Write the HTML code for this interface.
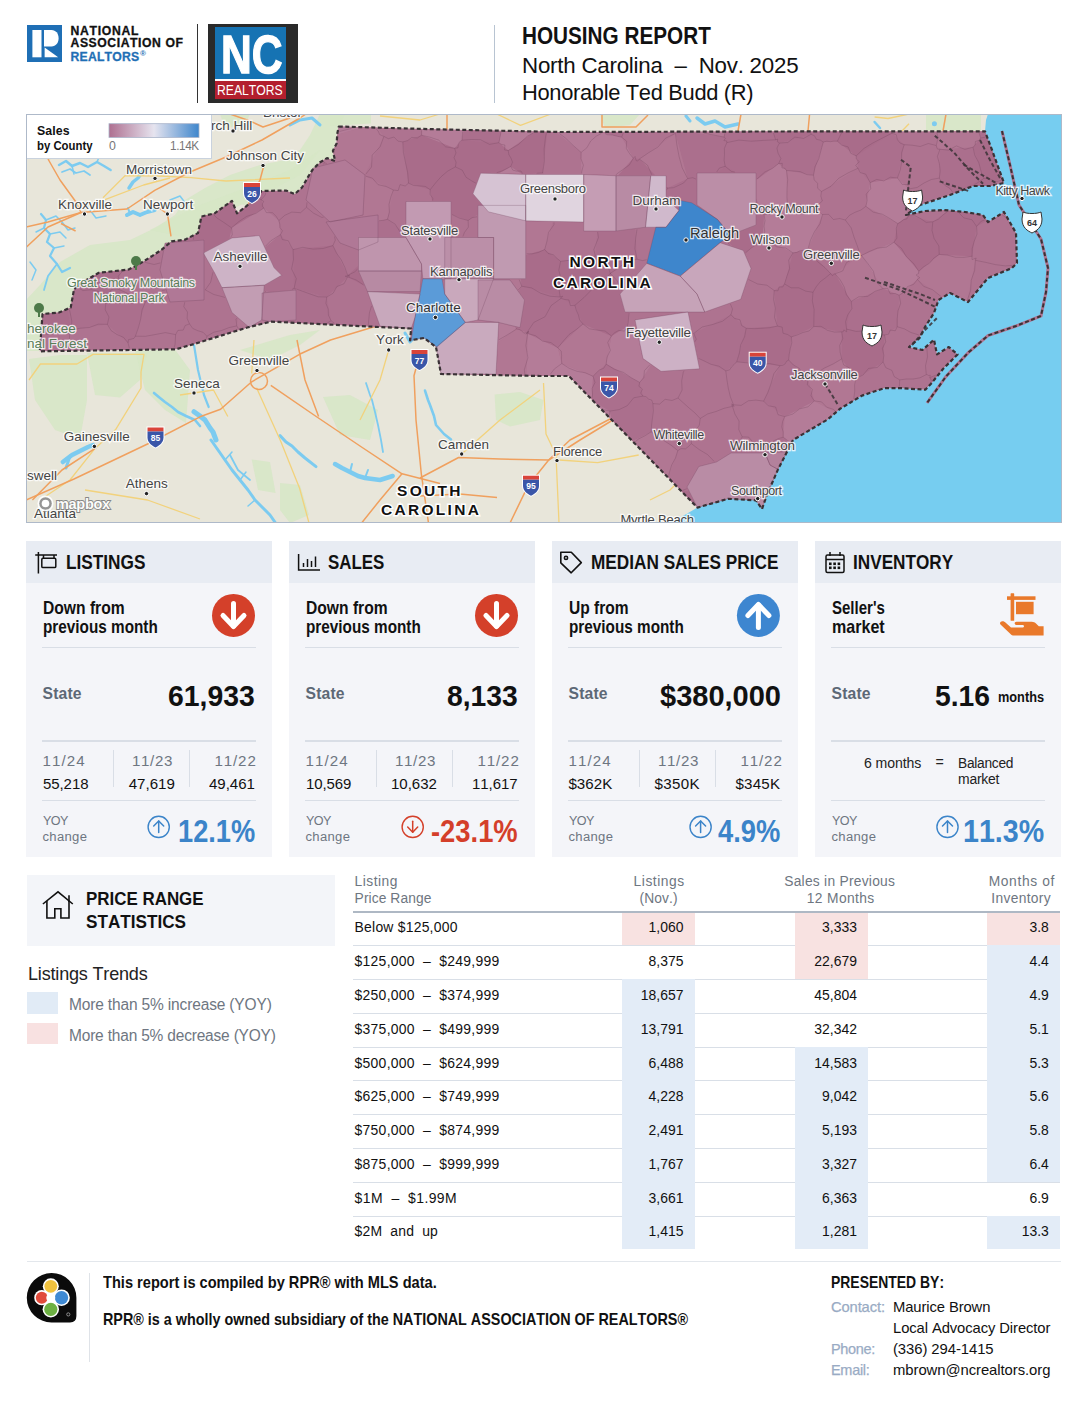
<!DOCTYPE html>
<html><head><meta charset="utf-8"><title>Housing Report</title>
<style>
html,body{margin:0;padding:0;background:#fff;}
body{width:1088px;height:1408px;position:relative;overflow:hidden;font-family:"Liberation Sans",sans-serif;font-kerning:none;}
.t{position:absolute;white-space:nowrap;line-height:1;}
.r{position:absolute;}
</style></head><body>
<div class="r" style="left:26.60px;top:25.00px;width:35.10px;height:37.20px;background:#1f6fb5;"></div>
<svg class="r" style="left:0;top:0" width="80" height="80" viewBox="0 0 80 80">
<rect x="32.4" y="30" width="9.1" height="27.3" fill="#fff"/>
<path d="M44,30 H51.5 C55.8,30 58.6,33.6 58.6,38.2 C58.6,42.9 55.8,46.4 51.5,46.4 H44 Z" fill="#fff"/>
<path d="M44.6,47.6 L58.2,57.3 H44.6 Z" fill="#fff"/>
</svg>
<span class="t" style="left:70.50px;top:24.71px;font-size:12.21px;font-weight:700;color:#111;letter-spacing:0.691px;-webkit-text-stroke:0.3px #111;">NATIONAL</span>
<span class="t" style="left:70.50px;top:37.41px;font-size:12.21px;font-weight:700;color:#111;letter-spacing:0.567px;-webkit-text-stroke:0.3px #111;">ASSOCIATION OF</span>
<span class="t" style="left:70.50px;top:50.71px;font-size:12.21px;font-weight:700;color:#1f6fb5;letter-spacing:0.223px;-webkit-text-stroke:0.3px #1f6fb5;">REALTORS</span>
<span class="t" style="left:140.00px;top:50.18px;font-size:7.99px;font-weight:700;color:#1f6fb5;">®</span>
<div class="r" style="left:196.50px;top:24.00px;width:1.50px;height:79.00px;background:#333;"></div>
<div class="r" style="left:208.00px;top:24.00px;width:89.60px;height:79.00px;background:#2a2a2a;"></div>
<div class="r" style="left:214.70px;top:27.00px;width:71.30px;height:52.00px;background:#1673b3;"></div>
<div class="r" style="left:214.70px;top:79.00px;width:71.30px;height:1.80px;background:#ffffff;"></div>
<div class="r" style="left:214.70px;top:80.80px;width:71.30px;height:18.20px;background:#b31f2e;"></div>
<span class="t" style="left:220.50px;top:26.88px;font-size:54.07px;font-weight:700;color:#fff;transform:scaleX(0.7877);transform-origin:0 0;-webkit-text-stroke:1.3px #fff;">NC</span>
<span class="t" style="left:217.40px;top:82.80px;font-size:14.83px;color:#fff;transform:scaleX(0.8211);transform-origin:0 0;">REALTORS</span>
<div class="r" style="left:493.50px;top:25.00px;width:1.50px;height:78.00px;background:#b8c4d2;"></div>
<span class="t" style="left:522.40px;top:23.55px;font-size:23.98px;font-weight:700;color:#111;transform:scaleX(0.8644);transform-origin:0 0;">HOUSING REPORT</span>
<span class="t" style="left:522.40px;top:53.53px;font-size:22.82px;color:#111;letter-spacing:-0.238px;transform:scaleX(0.9783);transform-origin:0 0;white-space:pre;">North Carolina  –  Nov. 2025</span>
<span class="t" style="left:522.40px;top:82.18px;font-size:22.53px;color:#111;letter-spacing:-0.337px;transform:scaleX(0.9720);transform-origin:0 0;">Honorable Ted Budd (R)</span>
<svg class="r" style="left:26px;top:114px" width="1036" height="409" viewBox="26 114 1036 409">
<defs><clipPath id="mc"><rect x="26" y="114" width="1036" height="409"/></clipPath></defs>
<g clip-path="url(#mc)">
<rect x="26" y="114" width="1036" height="409" fill="#e8e6da"/>
<polygon points="26.0,300.0 40.0,285.0 60.0,262.0 90.0,245.0 130.0,240.0 155.0,228.0 175.0,215.0 185.0,200.0 205.0,188.0 230.0,175.0 260.0,165.0 285.0,160.0 300.0,150.0 310.0,135.0 320.0,114.0 345.0,114.0 339.0,126.0 337.0,133.0 333.0,151.0 335.0,161.0 327.0,158.0 312.0,170.0 302.0,187.0 295.0,194.0 286.0,190.0 262.0,191.0 247.0,206.0 232.0,201.0 215.0,213.0 201.4,216.5 198.0,233.0 185.0,239.7 171.6,241.4 161.7,249.6 151.7,256.3 138.5,264.5 128.6,269.5 98.8,272.8 79.0,284.4 74.0,289.3 70.7,307.5 59.0,312.5 42.5,314.0 39.0,351.0 26.0,351.0" fill="#d6e6c6" opacity="0.85"/>
<polygon points="150.0,230.0 200.0,205.0 240.0,190.0 290.0,170.0 320.0,150.0 300.0,175.0 262.0,195.0 220.0,215.0 190.0,238.0" fill="#d6e6c6" opacity="0.85"/>
<polygon points="29.0,359.0 60.0,355.0 87.0,355.0 87.0,400.0 80.0,439.0 55.0,430.0 35.0,400.0" fill="#d6e6c6" opacity="0.85"/>
<polygon points="87.0,353.0 147.5,353.0 140.0,380.0 120.0,397.6 95.0,395.0" fill="#d6e6c6" opacity="0.85"/>
<polygon points="135.0,351.0 175.0,349.6 190.0,370.0 186.0,423.0 165.0,410.0 145.0,390.0" fill="#d6e6c6" opacity="0.85"/>
<polygon points="240.0,350.0 290.0,335.0 320.0,330.0 300.0,345.0 270.0,360.0" fill="#d6e6c6" opacity="0.85"/>
<polygon points="323.0,397.0 350.0,395.0 378.0,410.0 370.0,440.0 340.0,435.0" fill="#d6e6c6" opacity="0.85"/>
<polygon points="251.7,459.5 270.0,462.0 275.6,493.0 258.0,490.0" fill="#d6e6c6" opacity="0.85"/>
<polygon points="280.0,483.0 300.0,485.0 309.0,515.0 290.0,523.0 280.0,510.0" fill="#d6e6c6" opacity="0.85"/>
<polygon points="494.6,394.4 520.0,392.0 543.5,400.0 540.0,420.0 510.0,426.6 496.0,420.0" fill="#d6e6c6" opacity="0.85"/>
<polygon points="220.0,114.0 250.0,114.0 245.0,125.0 225.0,128.0" fill="#d6e6c6" opacity="0.85"/>
<polygon points="926.0,114.0 981.0,114.0 981.0,131.0 926.0,131.0" fill="#d6e6c6" opacity="0.85"/>
<polygon points="330.0,114.0 371.0,114.0 371.0,123.6 330.0,126.0" fill="#d6e6c6" opacity="0.85"/>
<polygon points="600.0,114.0 640.0,114.0 630.0,125.0 605.0,128.0" fill="#d6e6c6" opacity="0.85"/>
<polyline points="59.0,165.0 66.0,161.0 72.0,166.0 80.0,163.0 88.0,167.0 97.0,162.0 104.0,166.0 110.6,170.0" fill="none" stroke="#7ccbf0" stroke-width="2.5" stroke-linejoin="round" stroke-linecap="round"/>
<polyline points="62.0,172.0 70.0,169.0 76.0,173.0 84.0,171.0 90.0,175.0" fill="none" stroke="#7ccbf0" stroke-width="1.8" stroke-linejoin="round" stroke-linecap="round"/>
<polyline points="72.0,166.0 74.0,174.0" fill="none" stroke="#7ccbf0" stroke-width="1.5" stroke-linejoin="round" stroke-linecap="round"/>
<polyline points="97.0,162.0 100.0,155.0" fill="none" stroke="#7ccbf0" stroke-width="1.5" stroke-linejoin="round" stroke-linecap="round"/>
<polyline points="129.0,188.0 133.0,182.0 138.0,178.0 142.0,172.0 147.0,168.0" fill="none" stroke="#7ccbf0" stroke-width="3.5" stroke-linejoin="round" stroke-linecap="round"/>
<polyline points="127.0,215.0 133.0,212.0 140.0,215.0 147.0,212.0 154.7,210.0" fill="none" stroke="#7ccbf0" stroke-width="4" stroke-linejoin="round" stroke-linecap="round"/>
<polyline points="130.0,214.0 128.0,208.0" fill="none" stroke="#7ccbf0" stroke-width="2" stroke-linejoin="round" stroke-linecap="round"/>
<polyline points="41.0,214.0 46.0,220.0 44.0,228.0 50.0,234.0 47.0,242.0 54.0,248.0 50.0,256.0 57.0,264.0 62.0,272.0 70.0,268.0" fill="none" stroke="#7ccbf0" stroke-width="2.2" stroke-linejoin="round" stroke-linecap="round"/>
<polyline points="46.0,220.0 56.0,216.0 62.0,222.0" fill="none" stroke="#7ccbf0" stroke-width="1.5" stroke-linejoin="round" stroke-linecap="round"/>
<polyline points="50.0,234.0 60.0,232.0 66.0,238.0" fill="none" stroke="#7ccbf0" stroke-width="1.5" stroke-linejoin="round" stroke-linecap="round"/>
<polyline points="54.0,248.0 64.0,246.0" fill="none" stroke="#7ccbf0" stroke-width="1.5" stroke-linejoin="round" stroke-linecap="round"/>
<polyline points="44.0,228.0 36.0,232.0" fill="none" stroke="#7ccbf0" stroke-width="1.5" stroke-linejoin="round" stroke-linecap="round"/>
<polyline points="57.0,264.0 48.0,276.0 44.0,290.0" fill="none" stroke="#7ccbf0" stroke-width="1.8" stroke-linejoin="round" stroke-linecap="round"/>
<polyline points="30.0,262.0 36.0,270.0 32.0,280.0" fill="none" stroke="#7ccbf0" stroke-width="1.5" stroke-linejoin="round" stroke-linecap="round"/>
<polyline points="62.0,222.0 68.0,230.0 75.0,228.0" fill="none" stroke="#7ccbf0" stroke-width="1.5" stroke-linejoin="round" stroke-linecap="round"/>
<polyline points="90.0,210.0 96.0,218.0 106.0,216.0" fill="none" stroke="#7ccbf0" stroke-width="1.5" stroke-linejoin="round" stroke-linecap="round"/>
<polyline points="170.0,200.0 180.0,196.0 186.0,204.0" fill="none" stroke="#7ccbf0" stroke-width="1.5" stroke-linejoin="round" stroke-linecap="round"/>
<polyline points="290.0,125.0 300.0,120.0 312.0,118.0 320.0,125.0" fill="none" stroke="#7ccbf0" stroke-width="3" stroke-linejoin="round" stroke-linecap="round"/>
<polyline points="194.0,345.0 198.0,370.0 204.0,395.0 208.7,407.0" fill="none" stroke="#7ccbf0" stroke-width="2.2" stroke-linejoin="round" stroke-linecap="round"/>
<polyline points="194.0,411.7 200.0,416.0 205.0,420.0 210.0,428.0 213.0,432.0 216.0,440.0" fill="none" stroke="#7ccbf0" stroke-width="5" stroke-linejoin="round" stroke-linecap="round"/>
<polyline points="211.0,440.0 218.0,450.0 225.0,460.0 232.0,470.0 240.0,480.0 248.0,490.0 255.0,500.0 262.0,507.0 270.0,515.0 275.6,523.0" fill="none" stroke="#7ccbf0" stroke-width="3" stroke-linejoin="round" stroke-linecap="round"/>
<polyline points="225.0,460.0 232.0,452.0" fill="none" stroke="#7ccbf0" stroke-width="1.5" stroke-linejoin="round" stroke-linecap="round"/>
<polyline points="240.0,480.0 246.0,472.0" fill="none" stroke="#7ccbf0" stroke-width="1.5" stroke-linejoin="round" stroke-linecap="round"/>
<polyline points="255.0,500.0 248.0,506.0" fill="none" stroke="#7ccbf0" stroke-width="1.5" stroke-linejoin="round" stroke-linecap="round"/>
<polyline points="230.0,455.0 238.0,470.0 250.0,480.0" fill="none" stroke="#7ccbf0" stroke-width="1.8" stroke-linejoin="round" stroke-linecap="round"/>
<polyline points="280.0,435.6 286.0,442.0 292.0,446.0 298.0,452.0 305.0,458.0 316.0,466.6" fill="none" stroke="#7ccbf0" stroke-width="3" stroke-linejoin="round" stroke-linecap="round"/>
<polyline points="335.0,464.0 342.0,468.0 350.0,472.0 358.0,476.0 365.0,478.0 380.0,480.0 392.7,476.0" fill="none" stroke="#7ccbf0" stroke-width="4.5" stroke-linejoin="round" stroke-linecap="round"/>
<polyline points="350.0,472.0 352.0,464.0" fill="none" stroke="#7ccbf0" stroke-width="2" stroke-linejoin="round" stroke-linecap="round"/>
<polyline points="365.0,478.0 368.0,470.0" fill="none" stroke="#7ccbf0" stroke-width="2" stroke-linejoin="round" stroke-linecap="round"/>
<polyline points="366.0,383.0 370.0,395.0 372.0,400.0 375.0,412.0 378.0,425.0 381.0,440.0 383.0,452.0" fill="none" stroke="#7ccbf0" stroke-width="1.8" stroke-linejoin="round" stroke-linecap="round"/>
<polyline points="425.0,390.6 428.0,400.0 430.0,405.0 434.0,416.0 436.0,425.0 444.0,434.0 451.0,439.5" fill="none" stroke="#7ccbf0" stroke-width="2.6" stroke-linejoin="round" stroke-linecap="round"/>
<polyline points="62.8,462.0 68.0,458.0 72.0,455.0 78.0,452.0 82.0,450.0 88.0,447.0 93.0,445.0" fill="none" stroke="#7ccbf0" stroke-width="4.5" stroke-linejoin="round" stroke-linecap="round"/>
<polyline points="70.0,456.0 66.0,468.0" fill="none" stroke="#7ccbf0" stroke-width="3" stroke-linejoin="round" stroke-linecap="round"/>
<polyline points="154.0,393.0 160.0,398.0 165.0,402.0 172.0,407.0 178.0,412.0 186.0,416.0 195.0,420.0 200.0,426.0" fill="none" stroke="#7ccbf0" stroke-width="2.6" stroke-linejoin="round" stroke-linecap="round"/>
<polyline points="405.0,333.0 410.0,342.0 414.0,338.0" fill="none" stroke="#7ccbf0" stroke-width="3" stroke-linejoin="round" stroke-linecap="round"/>
<polyline points="697.0,118.0 705.0,124.0 715.0,121.0 725.0,127.0 738.0,124.0" fill="none" stroke="#7ccbf0" stroke-width="3.5" stroke-linejoin="round" stroke-linecap="round"/>
<polyline points="874.6,122.0 880.0,128.0" fill="none" stroke="#7ccbf0" stroke-width="2.5" stroke-linejoin="round" stroke-linecap="round"/>
<polyline points="686.0,116.0 690.0,121.0" fill="none" stroke="#7ccbf0" stroke-width="3" stroke-linejoin="round" stroke-linecap="round"/>
<polyline points="103.0,197.8 125.0,175.7 160.0,176.0 191.0,177.6 226.0,181.0 290.0,178.0" fill="none" stroke="#f2d27c" stroke-width="1.3" stroke-linejoin="round"/>
<polyline points="105.0,199.6 143.6,185.0 170.0,178.0" fill="none" stroke="#f2d27c" stroke-width="1.3" stroke-linejoin="round"/>
<polyline points="48.0,159.0 80.0,150.0 120.0,140.0 160.0,128.0 200.0,118.0" fill="none" stroke="#f2d27c" stroke-width="1.3" stroke-linejoin="round"/>
<polyline points="254.0,340.0 251.7,373.5" fill="none" stroke="#f2d27c" stroke-width="1.3" stroke-linejoin="round"/>
<polyline points="256.5,387.8 280.4,440.4 299.5,488.0 309.0,523.0" fill="none" stroke="#f2d27c" stroke-width="1.3" stroke-linejoin="round"/>
<polyline points="180.0,395.0 213.5,390.0 227.8,416.5" fill="none" stroke="#f2d27c" stroke-width="1.3" stroke-linejoin="round"/>
<polyline points="29.0,380.0 40.4,364.0 77.0,364.0 93.0,354.4 144.0,354.4 141.0,372.0 141.0,388.0 115.6,429.6 94.8,448.7 70.0,480.0 40.0,500.0" fill="none" stroke="#f2d27c" stroke-width="1.3" stroke-linejoin="round"/>
<polyline points="85.0,490.0 147.5,500.0 200.0,519.0" fill="none" stroke="#f2d27c" stroke-width="1.3" stroke-linejoin="round"/>
<polyline points="543.5,383.0 546.0,434.0 556.0,455.0 559.0,523.0" fill="none" stroke="#f2d27c" stroke-width="1.3" stroke-linejoin="round"/>
<polyline points="559.0,460.0 597.6,462.6 638.7,455.0" fill="none" stroke="#f2d27c" stroke-width="1.3" stroke-linejoin="round"/>
<polyline points="461.7,454.0 500.0,420.0 540.0,390.0" fill="none" stroke="#f2d27c" stroke-width="1.3" stroke-linejoin="round"/>
<polyline points="388.7,350.0 380.0,380.0 360.0,420.0" fill="none" stroke="#f2d27c" stroke-width="1.3" stroke-linejoin="round"/>
<polyline points="496.7,114.0 520.5,125.3 551.0,114.0" fill="none" stroke="#f2d27c" stroke-width="1.3" stroke-linejoin="round"/>
<polyline points="874.6,117.0 888.0,118.5 909.0,114.0" fill="none" stroke="#f2d27c" stroke-width="1.3" stroke-linejoin="round"/>
<polyline points="909.0,123.7 902.0,131.0" fill="none" stroke="#f2d27c" stroke-width="1.3" stroke-linejoin="round"/>
<polyline points="380.0,116.0 420.0,120.0 440.0,114.0" fill="none" stroke="#f2d27c" stroke-width="1.3" stroke-linejoin="round"/>
<polyline points="650.0,500.0 670.0,490.0 690.0,470.0" fill="none" stroke="#f2d27c" stroke-width="1.3" stroke-linejoin="round"/>
<polyline points="26.0,227.0 48.0,222.0 81.0,212.5 127.0,209.0 154.7,190.4 190.0,172.0 226.0,157.0 262.0,140.0 300.0,118.0 306.0,114.0" fill="none" stroke="#f0a05e" stroke-width="1.5" stroke-linejoin="round"/>
<polyline points="48.0,159.0 60.0,180.0 75.6,201.5 81.0,212.5" fill="none" stroke="#f0a05e" stroke-width="1.5" stroke-linejoin="round"/>
<polyline points="26.0,247.4 48.0,227.0 81.0,212.5" fill="none" stroke="#f0a05e" stroke-width="1.5" stroke-linejoin="round"/>
<polyline points="61.0,223.5 75.6,231.0" fill="none" stroke="#f0a05e" stroke-width="1.5" stroke-linejoin="round"/>
<polyline points="154.7,205.0 167.5,214.0 171.0,236.4" fill="none" stroke="#f0a05e" stroke-width="1.5" stroke-linejoin="round"/>
<polyline points="264.0,165.0 260.0,180.0 252.0,196.0 248.0,205.0" fill="none" stroke="#f0a05e" stroke-width="1.5" stroke-linejoin="round"/>
<polyline points="26.0,500.0 74.0,479.0 147.5,444.0 200.0,416.8 220.6,409.3 251.7,381.8 299.5,354.3 330.5,340.0 380.0,325.0 411.0,320.0" fill="none" stroke="#f0a05e" stroke-width="1.5" stroke-linejoin="round"/>
<polyline points="32.4,500.0 62.0,470.0 94.8,448.7" fill="none" stroke="#f0a05e" stroke-width="1.5" stroke-linejoin="round"/>
<polyline points="270.8,385.4 316.2,416.5 360.0,446.0 402.0,473.8 440.0,483.4" fill="none" stroke="#f0a05e" stroke-width="1.5" stroke-linejoin="round"/>
<polyline points="297.0,340.0 305.0,380.0 318.6,416.5" fill="none" stroke="#f0a05e" stroke-width="1.5" stroke-linejoin="round"/>
<polyline points="421.0,349.6 414.0,375.8 416.0,420.0 421.3,473.8 428.5,523.0" fill="none" stroke="#f0a05e" stroke-width="1.5" stroke-linejoin="round"/>
<polyline points="402.0,473.8 380.0,500.0 361.6,523.0" fill="none" stroke="#f0a05e" stroke-width="1.5" stroke-linejoin="round"/>
<polyline points="420.0,478.0 458.6,457.5 500.0,459.0 548.7,460.0 580.0,440.0 610.4,421.5 640.0,400.0" fill="none" stroke="#f0a05e" stroke-width="1.5" stroke-linejoin="round"/>
<polyline points="510.0,523.0 528.0,485.8 548.7,460.0 570.0,440.0 610.0,419.0 650.0,390.0" fill="none" stroke="#f0a05e" stroke-width="1.5" stroke-linejoin="round"/>
<polyline points="420.0,496.0 460.0,494.0 497.0,497.4" fill="none" stroke="#f0a05e" stroke-width="1.5" stroke-linejoin="round"/>
<polyline points="230.0,114.0 250.0,121.0 263.0,127.0 290.0,118.0" fill="none" stroke="#f0a05e" stroke-width="1.5" stroke-linejoin="round"/>
<polyline points="447.0,115.0 447.0,130.0" fill="none" stroke="#f0a05e" stroke-width="1.5" stroke-linejoin="round"/>
<polyline points="602.0,115.0 602.0,127.0 636.0,127.0 648.0,115.0" fill="none" stroke="#f0a05e" stroke-width="1.5" stroke-linejoin="round"/>
<polyline points="741.0,114.0 738.0,131.0" fill="none" stroke="#f0a05e" stroke-width="1.5" stroke-linejoin="round"/>
<polyline points="809.6,114.0 808.0,131.0" fill="none" stroke="#f0a05e" stroke-width="1.5" stroke-linejoin="round"/>
<polyline points="946.0,114.0 943.0,131.0" fill="none" stroke="#f0a05e" stroke-width="1.5" stroke-linejoin="round"/>
<circle cx="259" cy="381" r="8.5" fill="none" stroke="#f0a05e" stroke-width="1.5"/>
<polygon points="988.0,114.0 1062.0,114.0 1062.0,523.0 666.5,523.0 676.8,519.4 697.4,507.6 728.0,498.8 756.0,500.3 762.0,509.0 766.5,496.0 778.0,469.4 787.0,451.8 793.0,440.0 828.0,419.2 840.0,408.8 862.0,395.6 884.0,388.2 901.8,388.2 925.3,389.7 931.0,383.8 943.0,369.0 957.6,354.4 948.8,347.0 937.0,354.4 934.0,339.7 922.4,350.0 909.0,347.0 919.4,338.2 925.3,326.5 934.0,313.0 938.5,300.0 950.0,293.0 968.0,302.0 988.0,278.0 1012.0,268.0 1017.0,263.0 1016.0,233.0 1004.0,212.0 988.0,222.0 983.0,215.0 965.0,212.0 944.0,210.0 925.0,211.0 906.0,215.0 920.0,205.0 950.0,195.0 973.0,186.0 990.0,186.0 1004.0,183.0 992.0,150.0 985.0,131.3 986.0,120.0" fill="#76cdf0"/>
<polygon points="338.8,126.5 440.0,129.4 560.0,132.0 760.0,131.5 985.0,131.3 992.0,150.0 1004.0,183.0 990.0,186.0 973.0,186.0 950.0,195.0 920.0,205.0 906.0,215.0 925.0,211.0 944.0,210.0 965.0,212.0 983.0,215.0 988.0,222.0 1004.0,212.0 1016.0,233.0 1017.0,263.0 1012.0,268.0 988.0,278.0 968.0,302.0 950.0,293.0 938.5,300.0 934.0,313.0 925.3,326.5 919.4,338.2 909.0,347.0 922.4,350.0 934.0,339.7 937.0,354.4 948.8,347.0 957.6,354.4 943.0,369.0 931.0,383.8 925.3,389.7 901.8,388.2 884.0,388.2 862.0,395.6 840.0,408.8 828.0,419.2 793.0,440.0 787.0,451.8 778.0,469.4 766.5,496.0 762.0,509.0 756.0,500.3 728.0,498.8 697.4,507.6 568.8,376.0 540.0,376.0 441.0,374.0 436.0,347.0 424.0,338.0 410.0,340.4 411.2,328.5 366.0,326.4 271.0,321.6 247.3,327.5 196.0,343.4 176.0,349.3 39.8,351.3 42.5,314.0 59.0,312.5 70.7,307.5 74.0,289.3 79.0,284.4 98.8,272.8 128.6,269.5 138.5,264.5 151.7,256.3 161.7,249.6 171.6,241.4 185.0,239.7 198.0,233.0 201.4,216.5 214.6,213.3 232.0,200.8 237.0,213.3 246.8,205.8 261.7,191.0 285.9,190.5 294.7,194.1 302.0,187.5 307.9,177.2 312.4,169.9 319.7,162.5 327.0,158.1 335.1,161.1 332.9,150.8 336.6,143.4 337.4,133.1" fill="#ae7390"/>
<path d="M338.8,126.5 L337.4,133.1 L337.3,134.7 L362.9,127.2 L338.8,126.5Z M462.0,140.2 L463.8,129.9 L440.0,129.4 L422.0,128.9 L421.6,135.2 L454.6,148.3 L462.0,140.2Z M501.2,130.7 L498.9,142.7 L508.2,150.5 L534.9,131.5 L501.2,130.7Z M603.0,132.5 L602.7,131.9 L560.0,132.0 L556.2,131.9 L581.1,152.4 L603.0,132.5Z M633.3,158.3 L621.7,137.2 L603.0,132.5 L581.1,152.4 L581.3,174.0 L583.7,174.0 L583.7,174.0 L616.0,175.3 L618.4,175.3 L633.3,158.3Z M510.8,166.5 L499.1,173.2 L522.1,173.9 L510.8,166.5Z M759.2,209.2 L764.1,214.7 L787.7,206.6 L786.5,170.5 L778.7,163.5 L756.5,179.7 L756.5,198.5 L759.2,209.2Z M906.0,215.0 L908.8,213.0 L909.1,188.9 L897.4,178.0 L870.2,182.6 L865.9,206.3 L897.8,223.6 L908.7,215.6 L908.8,214.4 L906.0,215.0Z M229.4,238.8 L231.8,237.6 L231.8,237.5 L231.9,237.5 L231.9,237.5 L232.0,237.5 L259.2,235.1 L259.2,235.1 L259.3,235.1 L259.3,235.1 L259.4,235.1 L259.4,235.1 L259.5,235.2 L259.5,235.2 L259.5,235.2 L259.6,235.3 L259.6,235.3 L259.6,235.3 L259.7,235.4 L265.3,247.6 L280.5,234.6 L278.8,220.6 L263.8,208.0 L231.5,227.8 L229.4,238.8Z M822.5,214.5 L819.4,210.0 L787.7,206.6 L764.1,214.7 L762.3,237.4 L793.0,252.9 L807.9,249.3 L822.5,214.5Z M917.4,279.4 L918.8,271.3 L893.9,242.3 L861.5,255.5 L882.9,288.6 L899.1,295.2 L917.4,279.4Z M515.9,327.1 L499.2,323.0 L498.2,342.2 L516.6,329.0 L515.9,327.1Z M490.0,321.9 L478.0,320.5 L470.6,321.9 L490.0,321.9Z M557.8,347.8 L527.6,333.4 L526.3,375.7 L540.0,376.0 L551.0,376.0 L561.8,363.5 L557.8,347.8Z M611.4,335.9 L606.1,364.1 L639.7,382.4 L651.1,364.8 L642.7,358.9 L642.7,358.9 L642.6,358.8 L642.6,358.8 L642.6,358.8 L642.6,358.7 L642.5,358.7 L642.5,358.6 L642.5,358.6 L636.8,331.3 L627.3,326.6 L611.4,335.9Z M561.8,363.5 L551.0,376.0 L568.8,376.0 L591.8,399.6 L593.1,376.3 L561.8,363.5Z M594.3,402.1 L612.2,420.4 L609.8,411.1 L594.3,402.1Z M784.7,416.6 L783.2,437.2 L790.9,444.1 L793.0,440.0 L828.0,419.2 L835.9,412.4 L814.3,400.9 L784.7,416.6Z" fill="#b47c98"/><path d="M501.2,130.7 L463.8,129.9 L462.0,140.2 L498.9,142.7 L501.2,130.7Z M621.7,137.2 L624.8,131.8 L602.7,131.9 L603.0,132.5 L621.7,137.2Z M774.1,131.5 L760.0,131.5 L725.2,131.6 L724.1,137.1 L726.8,142.6 L775.6,139.8 L774.1,131.5Z M837.4,141.2 L841.9,131.4 L810.8,131.5 L811.0,134.3 L823.3,142.0 L837.4,141.2Z M987.4,137.8 L985.0,131.3 L979.0,131.3 L980.7,138.0 L987.4,137.8Z M725.2,166.3 L726.8,142.6 L724.1,137.1 L687.0,131.7 L676.2,131.7 L675.4,133.4 L687.6,178.5 L696.5,179.6 L696.5,173.0 L696.5,173.0 L696.5,172.9 L696.5,172.9 L696.5,172.8 L696.6,172.8 L696.6,172.7 L696.6,172.7 L696.6,172.6 L696.7,172.6 L696.7,172.6 L696.8,172.6 L696.8,172.5 L696.9,172.5 L696.9,172.5 L697.0,172.5 L697.0,172.5 L717.7,172.5 L725.2,166.3Z M778.7,163.5 L779.4,143.1 L775.6,139.8 L726.8,142.6 L725.2,166.3 L735.6,172.5 L756.0,172.5 L756.0,172.5 L756.1,172.5 L756.1,172.5 L756.2,172.5 L756.2,172.6 L756.3,172.6 L756.3,172.6 L756.4,172.6 L756.4,172.7 L756.4,172.7 L756.4,172.8 L756.5,172.8 L756.5,172.9 L756.5,172.9 L756.5,173.0 L756.5,173.0 L756.5,179.7 L778.7,163.5Z M786.5,170.5 L813.5,175.2 L823.3,142.0 L811.0,134.3 L779.4,143.1 L778.7,163.5 L786.5,170.5Z M870.2,182.6 L897.4,178.0 L904.2,144.7 L891.9,133.3 L856.2,155.9 L858.0,168.2 L870.2,182.6Z M973.0,147.2 L940.0,149.2 L939.3,178.1 L953.0,192.8 L983.7,178.5 L973.0,147.2Z M666.5,191.3 L666.5,198.8 L678.5,209.4 L678.5,200.2 L678.5,200.2 L678.5,200.1 L678.5,200.1 L678.5,200.0 L678.6,200.0 L678.6,199.9 L678.6,199.9 L678.6,199.8 L678.7,199.8 L678.7,199.8 L678.8,199.8 L678.8,199.7 L678.9,199.7 L678.9,199.7 L679.0,199.7 L679.0,199.7 L679.1,199.7 L679.1,199.7 L691.9,202.3 L691.9,202.3 L692.0,202.3 L692.0,202.4 L692.1,202.4 L696.6,205.3 L696.6,205.3 L696.6,205.3 L696.6,205.2 L696.5,205.2 L696.5,205.1 L696.5,205.1 L696.5,205.0 L696.5,205.0 L696.5,179.6 L687.6,178.5 L667.6,188.1 L666.5,191.3Z M195.1,234.5 L185.0,239.7 L171.6,241.4 L170.8,242.1 L193.8,240.3 L195.1,234.5Z M378.5,221.2 L378.5,237.0 L405.5,237.0 L405.5,233.7 L387.5,219.3 L378.5,221.2Z M595.3,256.0 L610.3,273.4 L610.3,273.4 L637.0,259.2 L635.1,229.0 L616.1,231.5 L616.0,231.5 L597.4,231.5 L595.3,256.0Z M265.3,247.6 L274.5,267.5 L282.0,274.9 L282.0,275.0 L282.0,275.0 L282.0,275.1 L282.1,275.1 L282.1,275.2 L282.1,275.2 L282.1,275.2 L282.1,275.3 L282.1,275.3 L282.1,275.4 L282.1,275.4 L282.1,275.5 L282.0,275.5 L282.0,275.6 L282.0,275.6 L282.0,275.6 L281.9,275.7 L281.9,275.7 L281.8,275.7 L264.7,285.5 L264.3,290.9 L269.2,291.9 L291.0,289.9 L294.1,288.3 L293.0,249.6 L280.5,234.6 L265.3,247.6Z M107.4,324.3 L106.9,295.2 L76.9,286.5 L74.0,289.3 L70.7,307.5 L67.5,308.9 L71.3,330.3 L107.4,324.3Z M135.4,336.2 L145.6,301.6 L117.2,288.8 L106.9,295.2 L107.4,324.3 L128.0,342.8 L135.4,336.2Z M294.1,288.3 L291.0,289.9 L296.0,289.5 L296.0,289.5 L296.1,289.5 L296.1,289.5 L296.1,289.5 L296.2,289.5 L296.2,289.6 L296.3,289.6 L296.3,289.6 L296.4,289.6 L296.4,289.7 L296.4,289.7 L296.4,289.8 L296.5,289.8 L296.5,289.9 L296.5,289.9 L296.5,290.0 L296.5,290.0 L296.5,320.0 L296.5,320.1 L296.5,320.1 L296.5,320.1 L296.5,320.2 L296.4,320.2 L296.4,320.3 L296.4,320.3 L296.3,320.4 L296.3,320.4 L296.3,320.4 L296.2,320.4 L296.2,320.5 L296.1,320.5 L296.1,320.5 L296.0,320.5 L280.6,321.5 L280.6,322.1 L327.1,324.4 L331.1,320.8 L326.8,297.0 L294.1,288.3Z M561.0,298.4 L560.2,297.0 L521.7,286.2 L518.8,291.3 L524.9,299.7 L524.9,299.7 L525.0,299.8 L525.0,299.8 L525.0,299.9 L525.0,299.9 L525.0,300.0 L525.0,300.0 L525.0,300.1 L520.5,327.7 L520.5,327.7 L520.5,327.8 L520.4,327.8 L520.4,327.9 L520.4,327.9 L520.4,327.9 L520.3,328.0 L520.3,328.0 L520.3,328.0 L520.2,328.1 L520.2,328.1 L520.1,328.1 L520.1,328.1 L520.0,328.1 L520.0,328.1 L519.9,328.1 L519.9,328.1 L515.9,327.1 L516.6,329.0 L526.9,332.6 L561.0,298.4Z M583.0,324.0 L574.9,305.3 L561.0,298.4 L526.9,332.6 L527.6,333.4 L557.8,347.8 L583.0,324.0Z M897.2,326.7 L899.1,295.2 L882.9,288.6 L851.3,301.4 L846.6,329.1 L884.5,334.9 L897.2,326.7Z M725.8,370.9 L736.7,361.8 L746.2,328.2 L731.0,314.7 L693.8,333.4 L694.7,342.8 L697.8,358.1 L725.8,370.9Z M643.0,396.1 L639.7,382.4 L606.1,364.1 L593.1,376.3 L591.8,399.6 L594.3,402.1 L609.8,411.1 L643.0,396.1Z M784.7,416.6 L814.3,400.9 L808.0,378.7 L788.7,360.0 L780.0,365.7 L763.6,401.1 L784.7,416.6Z M931.2,383.6 L937.8,375.5 L929.8,377.6 L931.2,383.6Z M609.8,411.1 L612.2,420.4 L632.4,441.0 L651.1,431.9 L652.9,403.6 L643.0,396.1 L609.8,411.1Z M790.9,444.1 L783.2,437.2 L765.2,445.4 L764.4,452.5 L765.0,452.5 L787.0,451.3 L787.0,451.3 L787.1,451.3 L787.1,451.3 L787.2,451.3 L787.2,451.3 L787.2,451.4 L790.9,444.1Z" fill="#ab6f8d"/><path d="M725.2,131.6 L687.0,131.7 L724.1,137.1 L725.2,131.6Z M940.0,149.2 L973.0,147.2 L980.7,138.0 L979.0,131.3 L938.0,131.3 L936.3,145.5 L940.0,149.2Z M326.7,164.1 L344.9,159.5 L344.9,159.5 L345.0,159.5 L345.0,159.5 L345.1,159.5 L345.1,159.5 L345.2,159.5 L345.2,159.5 L345.3,159.6 L345.3,159.6 L365.1,174.5 L383.9,136.4 L377.3,127.6 L362.9,127.2 L337.3,134.7 L336.6,143.4 L332.9,150.8 L335.1,161.1 L327.0,158.1 L323.7,160.1 L324.3,162.7 L326.7,164.1Z M639.4,159.0 L655.1,175.3 L666.0,175.3 L666.0,175.3 L666.1,175.3 L666.1,175.3 L666.2,175.3 L666.2,175.4 L666.3,175.4 L666.3,175.4 L666.4,175.4 L666.4,175.5 L666.4,175.5 L666.4,175.6 L666.5,175.6 L666.5,175.7 L666.5,175.7 L666.5,175.8 L666.5,175.8 L666.5,187.0 L667.6,188.1 L687.6,178.5 L675.4,133.4 L639.4,159.0Z M813.5,175.2 L821.4,191.5 L858.0,168.2 L856.2,155.9 L837.4,141.2 L823.3,142.0 L813.5,175.2Z M353.3,217.8 L377.9,214.5 L378.0,214.5 L378.0,214.5 L378.1,214.5 L378.1,214.5 L378.2,214.5 L378.2,214.6 L378.3,214.6 L378.3,214.6 L378.3,214.6 L378.4,214.7 L378.4,214.7 L378.4,214.8 L378.5,214.8 L378.5,214.9 L378.5,214.9 L378.5,214.9 L378.5,215.0 L378.5,221.2 L387.5,219.3 L393.4,190.0 L365.4,176.2 L363.5,215.0 L363.5,215.1 L363.5,215.1 L363.5,215.2 L363.4,215.2 L363.4,215.3 L363.4,215.3 L363.4,215.3 L363.3,215.4 L363.3,215.4 L363.2,215.4 L363.2,215.5 L363.2,215.5 L363.1,215.5 L352.9,217.7 L353.3,217.8Z M813.5,175.2 L786.5,170.5 L787.7,206.6 L819.4,210.0 L821.4,191.5 L813.5,175.2Z M544.7,249.5 L552.6,221.9 L526.2,221.3 L526.2,254.9 L544.7,249.5Z M521.7,286.2 L521.0,279.2 L493.9,279.2 L493.8,279.5 L510.0,279.5 L510.0,279.5 L510.1,279.5 L510.1,279.5 L510.2,279.5 L510.2,279.6 L510.3,279.6 L510.3,279.6 L510.3,279.6 L510.4,279.7 L510.4,279.7 L518.8,291.3 L521.7,286.2Z M882.9,288.6 L861.5,255.5 L860.4,255.2 L835.0,273.8 L851.3,301.4 L882.9,288.6Z M939.2,254.4 L918.8,271.3 L917.4,279.4 L942.6,297.5 L950.0,293.0 L964.7,300.4 L967.3,300.3 L975.4,260.3 L972.1,256.2 L939.2,254.4Z M240.8,329.5 L247.3,327.5 L248.3,327.2 L238.2,318.5 L236.8,325.9 L240.8,329.5Z M269.8,321.9 L261.9,320.5 L261.9,320.5 L252.1,326.3 L269.8,321.9Z M280.6,322.1 L280.6,321.5 L275.4,321.8 L280.6,322.1Z M264.3,290.9 L264.2,292.3 L269.2,291.9 L264.3,290.9Z M489.6,375.0 L526.3,375.7 L527.6,333.4 L526.9,332.6 L516.6,329.0 L498.2,342.2 L496.5,374.0 L496.5,374.1 L496.5,374.1 L496.5,374.2 L496.4,374.2 L496.4,374.3 L496.4,374.3 L496.4,374.3 L496.3,374.4 L496.3,374.4 L496.2,374.4 L496.2,374.5 L496.1,374.5 L496.1,374.5 L496.1,374.5 L496.0,374.5 L489.2,374.5 L489.6,375.0Z M611.4,335.9 L583.0,324.0 L557.8,347.8 L561.8,363.5 L593.1,376.3 L606.1,364.1 L611.4,335.9Z M841.7,358.9 L808.0,378.7 L814.3,400.9 L835.9,412.4 L840.0,408.8 L854.2,400.3 L856.0,378.4 L841.7,358.9Z M651.1,431.9 L632.4,441.0 L668.3,477.8 L677.8,450.6 L651.1,431.9Z" fill="#b17793"/><path d="M811.0,134.3 L810.8,131.5 L774.1,131.5 L775.6,139.8 L779.4,143.1 L811.0,134.3Z M891.9,133.3 L891.7,131.4 L841.9,131.4 L837.4,141.2 L856.2,155.9 L891.9,133.3Z M261.7,191.0 L255.8,196.9 L261.2,199.8 L265.2,190.9 L261.7,191.0Z M421.6,135.2 L402.8,141.9 L408.5,183.2 L430.2,189.7 L455.4,166.9 L454.6,148.3 L421.6,135.2Z M462.0,140.2 L454.6,148.3 L455.4,166.9 L476.5,183.0 L480.2,173.0 L480.3,173.0 L480.3,172.9 L480.3,172.9 L480.3,172.9 L480.4,172.8 L480.4,172.8 L480.4,172.8 L480.5,172.7 L480.5,172.7 L480.6,172.7 L480.6,172.7 L480.7,172.7 L480.7,172.7 L499.1,173.2 L510.8,166.5 L508.2,150.5 L498.9,142.7 L462.0,140.2Z M522.1,173.9 L525.7,174.0 L530.0,174.0 L542.6,173.0 L547.3,131.7 L534.9,131.5 L508.2,150.5 L510.8,166.5 L522.1,173.9Z M983.7,178.5 L993.2,182.6 L1002.0,177.5 L992.0,150.0 L987.4,137.8 L980.7,138.0 L973.0,147.2 L983.7,178.5Z M246.8,205.8 L237.0,213.3 L232.0,200.8 L214.6,213.3 L213.2,213.6 L231.5,227.8 L263.8,208.0 L261.2,199.8 L255.8,196.9 L246.8,205.8Z M455.4,166.9 L430.2,189.7 L432.1,201.0 L451.0,201.0 L451.0,201.0 L451.1,201.0 L451.1,201.0 L451.2,201.0 L451.2,201.1 L451.3,201.1 L451.3,201.1 L451.4,201.1 L451.4,201.2 L451.4,201.2 L451.4,201.3 L451.5,201.3 L451.5,201.4 L451.5,201.4 L451.5,201.5 L451.5,201.5 L451.5,214.3 L468.1,220.5 L477.5,214.4 L477.5,205.4 L477.5,205.4 L477.5,205.3 L477.5,205.3 L477.5,205.2 L477.6,205.2 L477.6,205.1 L477.6,205.1 L477.6,205.0 L477.7,205.0 L477.7,205.0 L477.8,205.0 L477.8,204.9 L477.9,204.9 L477.9,204.9 L478.0,204.9 L478.0,204.9 L481.8,204.9 L472.6,194.1 L472.6,194.1 L472.6,194.0 L472.5,194.0 L472.5,194.0 L472.5,193.9 L472.5,193.9 L472.5,193.8 L472.5,193.8 L472.5,193.7 L472.5,193.7 L472.5,193.6 L476.5,183.0 L455.4,166.9Z M633.3,158.3 L618.4,175.3 L655.1,175.3 L639.4,159.0 L633.3,158.3Z M667.6,188.1 L666.5,187.0 L666.5,191.3 L667.6,188.1Z M759.2,209.2 L756.5,198.5 L756.5,209.4 L759.2,209.2Z M725.2,166.3 L717.7,172.5 L735.6,172.5 L725.2,166.3Z M973.0,186.0 L990.0,186.0 L993.8,185.2 L993.2,182.6 L983.7,178.5 L953.0,192.8 L953.0,193.8 L973.0,186.0Z M987.0,220.6 L983.0,215.0 L965.0,212.0 L956.7,211.2 L976.6,226.4 L987.0,220.6Z M213.2,213.6 L201.4,216.5 L198.0,233.0 L195.1,234.5 L193.8,240.3 L204.0,239.5 L204.0,239.5 L204.1,239.5 L204.1,239.5 L204.2,239.5 L204.2,239.5 L204.2,239.6 L204.3,239.6 L204.3,239.6 L204.4,239.7 L204.4,239.7 L204.4,239.7 L204.4,239.8 L204.5,239.8 L204.5,239.9 L204.5,239.9 L204.5,240.0 L204.5,240.0 L204.5,250.5 L205.9,251.1 L229.4,238.8 L231.5,227.8 L213.2,213.6Z M762.3,237.4 L764.1,214.7 L759.2,209.2 L756.5,209.4 L756.5,225.0 L756.5,225.0 L756.5,225.1 L756.5,225.1 L756.5,225.2 L756.4,225.2 L756.4,225.3 L756.4,225.3 L756.3,225.4 L756.3,225.4 L756.3,225.4 L756.2,225.4 L756.2,225.5 L730.6,235.4 L725.9,239.0 L732.1,246.1 L743.5,249.9 L743.5,249.9 L743.5,250.0 L743.6,250.0 L743.6,250.0 L743.7,250.0 L743.7,250.1 L743.7,250.1 L743.7,250.2 L743.8,250.2 L745.1,253.3 L762.3,237.4Z M897.8,223.6 L893.9,242.3 L918.8,271.3 L939.2,254.4 L932.8,221.8 L908.7,215.6 L897.8,223.6Z M939.2,254.4 L972.1,256.2 L976.6,226.4 L956.7,211.2 L948.7,210.4 L932.8,221.8 L939.2,254.4Z M117.2,288.8 L120.7,270.4 L98.8,272.8 L79.0,284.4 L76.9,286.5 L106.9,295.2 L117.2,288.8Z M326.8,297.0 L347.6,276.9 L347.7,275.4 L332.9,245.6 L293.0,249.6 L294.1,288.3 L326.8,297.0Z M347.7,275.4 L347.6,276.9 L364.4,285.8 L358.0,271.2 L358.0,271.2 L358.0,271.1 L358.0,271.1 L358.0,271.0 L358.0,266.0 L347.7,275.4Z M544.7,249.5 L526.2,254.9 L526.2,278.7 L526.2,278.7 L526.2,278.8 L526.2,278.8 L526.2,278.9 L526.1,278.9 L526.1,279.0 L526.1,279.0 L526.1,279.1 L526.0,279.1 L526.0,279.1 L525.9,279.1 L525.9,279.2 L525.8,279.2 L525.8,279.2 L525.7,279.2 L525.7,279.2 L521.0,279.2 L521.7,286.2 L560.2,297.0 L560.6,261.3 L544.7,249.5Z M560.6,261.3 L560.2,297.0 L561.0,298.4 L574.9,305.3 L610.3,273.4 L595.3,256.0 L560.6,261.3Z M793.0,252.9 L784.5,283.9 L813.0,292.3 L830.6,273.6 L807.9,249.3 L793.0,252.9Z M71.3,330.3 L67.5,308.9 L59.0,312.5 L42.5,314.0 L41.0,334.8 L69.7,333.3 L71.3,330.3Z M583.0,324.0 L611.4,335.9 L627.3,326.6 L628.9,312.5 L625.0,312.5 L625.0,312.5 L624.9,312.5 L624.9,312.5 L624.8,312.5 L624.8,312.4 L624.7,312.4 L624.7,312.4 L624.6,312.3 L624.6,312.3 L624.6,312.3 L624.6,312.2 L624.5,312.2 L624.5,312.1 L619.5,294.1 L619.5,294.1 L619.5,294.0 L619.5,294.0 L619.5,293.9 L619.5,293.9 L619.5,293.8 L619.5,293.8 L619.6,293.8 L619.6,293.7 L619.6,293.7 L620.9,292.3 L610.3,273.4 L610.3,273.4 L574.9,305.3 L583.0,324.0Z M774.2,290.5 L777.4,326.1 L791.3,336.9 L813.8,326.6 L813.0,292.3 L784.5,283.9 L774.2,290.5Z M813.0,292.3 L813.8,326.6 L841.7,331.9 L846.6,329.1 L851.3,301.4 L835.0,273.8 L830.6,273.6 L813.0,292.3Z M791.3,336.9 L777.4,326.1 L746.2,328.2 L736.7,361.8 L780.0,365.7 L788.7,360.0 L791.3,336.9Z M841.7,358.9 L856.0,378.4 L883.1,361.9 L884.5,334.9 L846.6,329.1 L841.7,331.9 L841.7,358.9Z M680.1,489.9 L696.2,506.4 L688.7,491.4 L680.1,489.9Z" fill="#a96c8a"/>
<polygon points="313.0,168.0 345.0,160.0 365.0,175.0 363.0,215.0 330.0,222.0 306.0,200.0" fill="#b27a97"/>
<polygon points="326.0,222.0 378.0,215.0 378.0,242.0 358.5,250.0 340.0,243.0" fill="#b07896"/>
<polygon points="358.5,237.5 406.0,237.5 421.5,264.0 421.5,271.0 358.5,271.0" fill="#bf95ad"/>
<polygon points="358.5,271.0 421.5,271.0 420.0,291.6 367.5,291.6" fill="#b78aa3"/>
<polygon points="367.5,291.6 420.0,294.0 415.0,317.3 411.2,328.5 380.0,326.0" fill="#c8a8bc"/>
<polygon points="406.0,201.5 451.0,201.5 451.0,278.7 422.8,278.7 421.5,264.0 406.0,237.5" fill="#c29ab2"/>
<polygon points="444.7,237.5 493.6,237.5 493.6,278.7 444.7,278.7" fill="#bb8fa8"/>
<polygon points="444.7,278.7 493.6,278.7 478.0,320.0 465.3,322.4 444.7,294.0" fill="#c9a8bc"/>
<polygon points="478.0,205.4 525.7,205.4 525.7,278.7 493.6,278.7 493.6,237.5 478.0,237.5" fill="#c09ab1"/>
<polygon points="478.0,280.0 510.0,280.0 524.5,300.0 520.0,327.6 498.7,322.4 478.0,320.0" fill="#b98ca5"/>
<polygon points="465.3,322.4 498.7,322.4 496.0,374.0 441.0,374.0 436.0,347.0" fill="#c9aabe"/>
<polygon points="473.0,193.8 480.7,173.2 525.7,174.5 525.7,220.8 488.4,211.8" fill="#d6c3d3"/>
<polygon points="525.7,174.5 583.7,174.5 583.7,222.0 525.7,220.8" fill="#e0d4df"/>
<polygon points="583.7,174.5 616.0,175.8 616.0,231.0 583.7,231.0" fill="#c59db4"/>
<polygon points="616.0,175.8 650.7,175.8 645.5,227.2 616.0,231.0" fill="#b88ba4"/>
<polygon points="697.0,173.0 756.0,173.0 756.0,225.0 730.4,235.0 717.6,219.5 697.0,205.0" fill="#bb8ea7"/>
<polygon points="650.7,175.8 666.0,175.8 666.0,199.0 679.0,210.5 673.8,217.0 666.0,227.2 645.5,227.2" fill="#d0b9cc"/>
<polygon points="679.0,200.2 691.8,202.8 717.6,219.5 730.4,235.0 720.1,242.7 680.2,276.1 646.8,263.3 655.8,227.2 666.0,227.2 673.8,217.0 679.0,210.5" fill="#3e86cc"/>
<polygon points="720.1,242.7 743.3,250.4 751.0,268.4 740.7,299.3 704.7,312.0 697.0,294.0 680.2,276.1" fill="#c8a6bb"/>
<polygon points="646.8,263.3 680.2,276.1 697.0,294.0 704.7,312.0 686.7,312.0 625.0,312.0 620.0,294.0" fill="#c6a3b8"/>
<polygon points="635.0,319.9 688.0,312.0 699.5,368.8 661.0,371.3 643.0,358.5" fill="#cdb1c5"/>
<polygon points="422.8,278.7 442.0,278.7 444.7,294.0 465.3,322.4 437.0,346.9 424.0,338.0 411.2,340.4 415.0,317.3 420.0,294.0" fill="#5b9bd8"/>
<polygon points="165.0,243.0 204.0,240.0 204.0,300.0 170.0,302.0 160.0,270.0" fill="#b07896"/>
<polygon points="203.4,253.0 232.0,238.0 259.2,235.6 274.1,267.8 281.6,275.3 264.2,285.2 222.0,287.7 214.6,272.8" fill="#cdb3c6"/>
<polygon points="222.0,287.7 264.2,285.2 261.7,320.0 249.3,327.4 232.0,312.5" fill="#c29db3"/>
<polygon points="262.0,293.0 296.0,290.0 296.0,320.0 271.0,321.6 262.0,320.0" fill="#b4809c"/>
<polygon points="687.0,487.0 698.8,466.5 716.5,462.0 731.0,453.0 765.0,453.0 770.0,465.0 778.0,469.4 766.5,496.0 762.0,509.0 756.0,500.3 728.0,498.8 697.4,507.6" fill="#b98ca5"/>
<polygon points="765.0,453.0 787.0,451.8 778.0,469.4 770.0,465.0" fill="#b3819c"/>
<polygon points="313.0,168.0 345.0,160.0 365.0,175.0 363.0,215.0 330.0,222.0 306.0,200.0" fill="none" stroke="#6e4059" stroke-width="0.6" opacity="0.45"/>
<polygon points="326.0,222.0 378.0,215.0 378.0,242.0 358.5,250.0 340.0,243.0" fill="none" stroke="#6e4059" stroke-width="0.6" opacity="0.45"/>
<polygon points="358.5,237.5 406.0,237.5 421.5,264.0 421.5,271.0 358.5,271.0" fill="none" stroke="#6e4059" stroke-width="0.6" opacity="0.45"/>
<polygon points="358.5,271.0 421.5,271.0 420.0,291.6 367.5,291.6" fill="none" stroke="#6e4059" stroke-width="0.6" opacity="0.45"/>
<polygon points="367.5,291.6 420.0,294.0 415.0,317.3 411.2,328.5 380.0,326.0" fill="none" stroke="#6e4059" stroke-width="0.6" opacity="0.45"/>
<polygon points="406.0,201.5 451.0,201.5 451.0,278.7 422.8,278.7 421.5,264.0 406.0,237.5" fill="none" stroke="#6e4059" stroke-width="0.6" opacity="0.45"/>
<polygon points="444.7,237.5 493.6,237.5 493.6,278.7 444.7,278.7" fill="none" stroke="#6e4059" stroke-width="0.6" opacity="0.45"/>
<polygon points="444.7,278.7 493.6,278.7 478.0,320.0 465.3,322.4 444.7,294.0" fill="none" stroke="#6e4059" stroke-width="0.6" opacity="0.45"/>
<polygon points="478.0,205.4 525.7,205.4 525.7,278.7 493.6,278.7 493.6,237.5 478.0,237.5" fill="none" stroke="#6e4059" stroke-width="0.6" opacity="0.45"/>
<polygon points="478.0,280.0 510.0,280.0 524.5,300.0 520.0,327.6 498.7,322.4 478.0,320.0" fill="none" stroke="#6e4059" stroke-width="0.6" opacity="0.45"/>
<polygon points="465.3,322.4 498.7,322.4 496.0,374.0 441.0,374.0 436.0,347.0" fill="none" stroke="#6e4059" stroke-width="0.6" opacity="0.45"/>
<polygon points="473.0,193.8 480.7,173.2 525.7,174.5 525.7,220.8 488.4,211.8" fill="none" stroke="#6e4059" stroke-width="0.6" opacity="0.45"/>
<polygon points="525.7,174.5 583.7,174.5 583.7,222.0 525.7,220.8" fill="none" stroke="#6e4059" stroke-width="0.6" opacity="0.45"/>
<polygon points="583.7,174.5 616.0,175.8 616.0,231.0 583.7,231.0" fill="none" stroke="#6e4059" stroke-width="0.6" opacity="0.45"/>
<polygon points="616.0,175.8 650.7,175.8 645.5,227.2 616.0,231.0" fill="none" stroke="#6e4059" stroke-width="0.6" opacity="0.45"/>
<polygon points="697.0,173.0 756.0,173.0 756.0,225.0 730.4,235.0 717.6,219.5 697.0,205.0" fill="none" stroke="#6e4059" stroke-width="0.6" opacity="0.45"/>
<polygon points="650.7,175.8 666.0,175.8 666.0,199.0 679.0,210.5 673.8,217.0 666.0,227.2 645.5,227.2" fill="none" stroke="#6e4059" stroke-width="0.6" opacity="0.45"/>
<polygon points="679.0,200.2 691.8,202.8 717.6,219.5 730.4,235.0 720.1,242.7 680.2,276.1 646.8,263.3 655.8,227.2 666.0,227.2 673.8,217.0 679.0,210.5" fill="none" stroke="#6e4059" stroke-width="0.6" opacity="0.45"/>
<polygon points="720.1,242.7 743.3,250.4 751.0,268.4 740.7,299.3 704.7,312.0 697.0,294.0 680.2,276.1" fill="none" stroke="#6e4059" stroke-width="0.6" opacity="0.45"/>
<polygon points="646.8,263.3 680.2,276.1 697.0,294.0 704.7,312.0 686.7,312.0 625.0,312.0 620.0,294.0" fill="none" stroke="#6e4059" stroke-width="0.6" opacity="0.45"/>
<polygon points="635.0,319.9 688.0,312.0 699.5,368.8 661.0,371.3 643.0,358.5" fill="none" stroke="#6e4059" stroke-width="0.6" opacity="0.45"/>
<polygon points="422.8,278.7 442.0,278.7 444.7,294.0 465.3,322.4 437.0,346.9 424.0,338.0 411.2,340.4 415.0,317.3 420.0,294.0" fill="none" stroke="#6e4059" stroke-width="0.6" opacity="0.45"/>
<polygon points="165.0,243.0 204.0,240.0 204.0,300.0 170.0,302.0 160.0,270.0" fill="none" stroke="#6e4059" stroke-width="0.6" opacity="0.45"/>
<polygon points="203.4,253.0 232.0,238.0 259.2,235.6 274.1,267.8 281.6,275.3 264.2,285.2 222.0,287.7 214.6,272.8" fill="none" stroke="#6e4059" stroke-width="0.6" opacity="0.45"/>
<polygon points="222.0,287.7 264.2,285.2 261.7,320.0 249.3,327.4 232.0,312.5" fill="none" stroke="#6e4059" stroke-width="0.6" opacity="0.45"/>
<polygon points="262.0,293.0 296.0,290.0 296.0,320.0 271.0,321.6 262.0,320.0" fill="none" stroke="#6e4059" stroke-width="0.6" opacity="0.45"/>
<polygon points="687.0,487.0 698.8,466.5 716.5,462.0 731.0,453.0 765.0,453.0 770.0,465.0 778.0,469.4 766.5,496.0 762.0,509.0 756.0,500.3 728.0,498.8 697.4,507.6" fill="none" stroke="#6e4059" stroke-width="0.6" opacity="0.45"/>
<polygon points="765.0,453.0 787.0,451.8 778.0,469.4 770.0,465.0" fill="none" stroke="#6e4059" stroke-width="0.6" opacity="0.45"/>
<path d="M443.3,280.1 L443.7,280.1 M518.4,289.9 L521.7,286.2 M521.7,286.2 L519.3,279.7 M609.8,411.1 L609.4,415.4 M609.8,411.1 L619.1,409.6 L627.3,405.7 L633.7,397.8 L643.0,396.1 M651.1,431.9 L651.6,424.8 L652.5,417.8 L653.4,410.7 L652.9,403.6 M651.1,431.9 L645.1,435.7 L638.7,438.9 L635.2,441.8 M643.0,396.1 L646.4,396.8 L648.4,399.2 L651.7,400.0 L652.9,403.6 M899.7,379.9 L899.4,386.0 L898.9,386.7 M899.7,379.9 L894.2,376.6 L891.9,370.4 L885.8,367.7 L883.1,361.9 M883.1,361.9 L877.2,367.5 L868.5,368.4 L863.2,374.9 L856.0,378.4 M856.0,378.4 L854.6,385.0 L854.7,391.7 L853.8,398.4 L853.8,398.8 M808.0,378.7 L807.3,384.9 L812.4,389.4 L811.0,395.8 L814.3,400.9 M808.0,378.7 L816.2,373.3 L824.4,368.0 L833.3,363.9 L841.7,358.9 M814.3,400.9 L821.6,401.9 L826.6,407.1 L833.2,409.3 L835.2,411.0 M841.7,358.9 L843.7,364.9 L849.6,368.1 L853.3,372.8 L856.0,378.4 M926.3,374.6 L925.5,365.8 L927.5,356.8 L926.9,348.0 L926.9,348.0 M926.3,374.6 L920.0,377.8 L913.3,379.0 L906.4,379.0 L899.7,379.9 M919.1,335.5 L918.1,334.7 L910.9,332.5 L904.4,328.9 L897.2,326.7 M883.1,361.9 L883.8,355.2 L882.4,348.3 L885.7,341.8 L884.5,334.9 M897.2,326.7 L895.3,330.8 L890.3,330.0 L888.5,334.2 L884.5,334.9 M926.3,374.6 L927.6,374.9 L928.6,375.5 L930.3,375.2 L929.8,377.6 M931.6,380.6 L929.8,377.6 M897.2,326.7 L897.2,318.8 L898.0,310.9 L900.7,303.2 L899.1,295.2 M917.4,279.4 L913.7,284.3 L907.6,286.5 L904.3,292.0 L899.1,295.2 M917.4,279.4 L923.7,286.4 L932.6,289.7 L939.8,295.5 L941.3,296.6 M1001.4,180.3 L993.2,182.6 M983.7,178.5 L986.8,178.0 L989.0,179.2 L991.7,179.7 L993.2,182.6 M983.7,178.5 L980.9,170.7 L978.8,162.7 L974.8,155.3 L973.0,147.2 M985.6,137.1 L980.7,138.0 M973.0,147.2 L975.2,145.1 L975.4,141.5 L978.9,140.4 L980.7,138.0 M980.7,138.0 L979.0,132.8 M526.7,253.7 L532.0,253.9 L538.6,252.4 L544.7,249.5 M544.7,249.5 L547.0,241.0 L548.5,232.4 L553.9,224.8 L554.0,222.4 M206.4,338.6 L206.9,336.2 M206.9,336.2 L213.8,332.2 L221.6,330.5 L229.0,327.6 L236.8,325.9 M238.4,328.7 L236.8,325.9 M189.5,323.9 L192.8,328.5 L197.8,330.7 L203.1,332.3 L206.9,336.2 M189.5,323.9 L185.2,325.5 L183.2,330.1 L177.9,330.4 L175.6,334.6 M174.1,347.8 L175.1,344.2 L175.6,334.6 M205.0,290.1 L205.3,289.9 M184.8,302.1 L183.8,306.7 L187.5,312.1 L187.1,318.3 L189.5,323.9 M236.8,325.9 L236.0,319.3 L237.0,318.1 M205.3,289.9 L213.8,294.5 L222.9,296.8 L224.9,297.5 M265.9,291.7 L264.8,291.2 M231.5,227.8 L232.3,234.6 L230.6,237.6 M231.5,227.8 L224.2,222.7 L216.7,217.8 L214.0,215.0 M193.6,237.0 L193.3,239.8 M205.3,289.9 L210.7,282.2 L212.7,273.3 L213.1,272.2 M165.2,290.0 L162.8,290.4 L157.2,294.4 L152.0,299.2 L145.6,301.6 M160.3,262.9 L154.1,264.5 L144.8,262.3 M122.2,271.7 L118.2,276.2 L120.0,282.9 L117.2,288.8 M117.2,288.8 L124.4,291.8 L131.4,295.3 L138.3,298.9 L145.6,301.6 M175.6,334.6 L165.4,332.6 L155.4,334.5 L145.4,336.3 L135.4,336.2 M145.6,301.6 L142.0,310.0 L140.7,319.0 L138.4,327.7 L135.4,336.2 M129.1,348.5 L129.2,347.5 L128.0,342.8 M135.4,336.2 L134.0,338.4 L131.3,339.1 L128.5,339.6 L128.0,342.8 M72.8,349.3 L69.2,342.3 L69.7,333.3 M69.7,333.3 L60.3,333.0 L50.8,333.9 L42.5,334.2 M993.2,182.6 L993.6,183.7 M1002.2,214.9 L1005.0,216.8 M736.7,361.8 L739.3,353.5 L740.7,344.8 L744.6,336.8 L746.2,328.2 M736.7,361.8 L747.5,362.9 L758.3,364.7 L769.3,363.5 L780.0,365.7 M746.2,328.2 L754.1,328.7 L761.9,328.3 L769.7,327.7 L777.4,326.1 M777.4,326.1 L782.2,327.1 L783.0,333.2 L787.6,334.5 L791.3,336.9 M791.3,336.9 L791.8,342.8 L790.3,348.5 L789.2,354.2 L788.7,360.0 M788.7,360.0 L786.5,361.3 L785.1,363.9 L782.8,365.3 L780.0,365.7 M808.0,378.7 L802.7,374.5 L799.3,368.3 L793.3,364.9 L788.7,360.0 M814.3,400.9 L808.0,406.8 L799.6,408.9 L792.8,414.0 L784.7,416.6 M784.7,416.6 L778.0,414.7 L775.6,407.0 L768.3,405.8 L763.6,401.1 M763.6,401.1 L767.9,392.4 L771.2,383.1 L773.9,373.6 L780.0,365.7 M763.6,401.1 L755.8,400.1 L748.3,400.8 L741.2,405.4 L733.5,404.8 M736.7,361.8 L734.2,364.4 L731.6,366.9 L729.6,369.9 L725.8,370.9 M725.8,370.9 L726.9,379.6 L728.3,388.2 L730.3,396.6 L733.5,404.8 M639.7,382.4 L643.8,377.7 L644.4,370.7 L648.7,366.0 L650.0,364.7 M639.7,382.4 L631.4,377.8 L623.4,372.4 L614.2,369.2 L606.1,364.1 M606.1,364.1 L607.1,357.0 L610.4,350.3 L607.7,342.5 L611.4,335.9 M611.4,335.9 L614.8,332.6 L618.8,330.4 L624.6,331.1 L627.3,326.6 M627.3,326.6 L631.1,326.9 L634.6,327.7 L636.0,329.5 M643.0,396.1 L640.7,393.1 L642.4,389.0 L638.9,386.3 L639.7,382.4 M652.9,403.6 L659.6,404.1 L665.1,399.3 L672.0,400.5 L678.0,398.0 M678.0,398.0 L682.1,390.0 L681.7,380.8 L683.3,372.2 L684.1,370.8 M725.8,370.9 L719.0,366.2 L710.9,364.3 L703.6,360.7 L698.4,358.3 M678.0,398.0 L683.6,403.1 L689.2,408.1 L695.0,413.0 L700.2,418.5 M700.2,418.5 L707.7,413.9 L716.0,411.5 L724.0,408.3 L732.5,406.4 M732.5,406.4 L731.7,405.3 L734.2,406.3 L731.6,404.2 L733.5,404.8 M629.2,313.0 L628.6,317.2 L628.3,321.9 L627.3,326.6 M746.2,328.2 L741.7,325.7 L740.0,319.8 L734.5,318.4 L731.0,314.7 M695.0,341.7 L696.3,339.2 L693.8,333.4 M731.0,314.7 L722.6,321.2 L712.6,324.5 L702.2,327.0 L693.8,333.4 M693.3,333.3 L693.8,333.4 M521.7,286.2 L531.6,287.9 L540.5,293.2 L550.0,296.2 L560.2,297.0 M544.7,249.5 L548.0,253.4 L553.2,254.7 L556.8,258.2 L560.6,261.3 M560.6,261.3 L558.8,270.2 L561.1,279.2 L558.8,288.0 L560.2,297.0 M813.5,175.2 L814.2,179.9 L817.6,183.3 L817.7,188.3 L821.4,191.5 M813.5,175.2 L806.7,174.6 L800.2,171.6 L793.4,171.0 L786.5,170.5 M786.5,170.5 L787.7,179.5 L787.0,188.5 L786.9,197.6 L787.7,206.6 M821.4,191.5 L820.8,196.1 L822.4,201.0 L817.5,205.1 L819.4,210.0 M787.7,206.6 L795.4,209.8 L803.8,206.0 L811.3,211.4 L819.4,210.0 M865.9,206.3 L867.2,200.4 L866.2,194.1 L870.7,188.8 L870.2,182.6 M865.9,206.3 L861.0,210.0 L855.0,212.3 L849.6,215.2 L845.3,220.0 M845.3,220.0 L839.7,218.5 L833.4,219.5 L828.6,214.3 L822.5,214.5 M870.2,182.6 L867.9,178.4 L865.7,174.1 L860.2,172.6 L858.0,168.2 M858.0,168.2 L848.1,172.9 L838.7,178.3 L831.0,186.3 L821.4,191.5 M822.5,214.5 L821.4,213.6 L820.3,212.7 L818.2,212.5 L819.4,210.0 M764.1,214.7 L765.0,220.5 L764.0,226.2 L764.7,231.9 L762.3,237.4 M764.1,214.7 L770.4,213.9 L775.8,210.3 L781.9,208.9 L787.7,206.6 M807.9,249.3 L810.5,240.2 L814.5,231.6 L820.0,223.7 L822.5,214.5 M807.9,249.3 L804.2,250.3 L800.3,250.6 L796.8,252.4 L793.0,252.9 M762.3,237.4 L769.9,241.6 L776.8,246.9 L785.8,248.0 L793.0,252.9 M917.4,279.4 L919.8,277.7 L916.1,275.0 L918.6,273.4 L918.8,271.3 M939.2,254.4 L933.8,258.2 L929.4,263.3 L923.7,266.8 L918.8,271.3 M939.2,254.4 L947.4,255.1 L955.5,257.3 L963.8,257.4 L972.1,256.2 M972.1,256.2 L972.0,258.0 L972.1,259.6 L976.2,258.0 L975.4,260.3 M967.4,300.0 L970.6,290.6 L971.2,280.3 L974.6,270.6 L975.4,260.3 M972.1,256.2 L972.2,248.6 L974.2,241.3 L977.0,234.1 L976.6,226.4 M976.6,226.4 L981.3,221.1 L984.7,220.0 M975.4,260.3 L985.4,262.3 L995.3,264.6 L1005.4,265.9 L1012.5,265.4 M929.8,377.6 L936.2,375.0 M909.1,188.9 L917.1,187.5 L924.0,183.0 L931.3,179.5 L939.3,178.1 M909.1,188.9 L907.3,195.5 L910.8,202.2 L911.0,208.9 L910.7,209.8 M910.3,215.6 L915.1,215.8 L920.8,218.7 L926.2,222.4 L932.8,221.8 M932.8,221.8 L938.4,219.2 L942.8,215.1 L947.1,211.8 M939.3,178.1 L942.0,182.5 L945.7,185.9 L950.2,188.6 L952.7,192.3 M897.4,178.0 L899.9,181.2 L902.3,184.5 L907.8,184.5 L909.1,188.9 M897.4,178.0 L890.3,177.2 L883.9,180.9 L876.7,179.4 L870.2,182.6 M897.8,223.6 L900.8,221.9 L903.4,219.8 L906.9,218.9 L908.5,216.0 M897.8,223.6 L890.1,218.7 L882.3,214.2 L873.1,212.1 L865.9,206.3 M897.8,223.6 L896.3,228.1 L896.5,233.1 L896.9,238.1 L893.9,242.3 M893.9,242.3 L901.5,248.4 L906.4,256.7 L913.5,263.3 L918.8,271.3 M939.2,254.4 L938.9,246.0 L934.1,238.5 L932.0,230.4 L932.8,221.8 M976.6,226.4 L972.0,219.8 L963.9,217.9 L958.9,212.9 M983.7,178.5 L976.7,183.4 L974.3,184.5 M940.0,149.2 L948.3,150.2 L956.4,145.9 L964.9,149.4 L973.0,147.2 M940.0,149.2 L937.4,156.4 L939.4,163.7 L940.2,170.9 L939.3,178.1 M940.0,149.2 L938.1,149.2 L937.0,148.5 L936.6,147.0 L936.3,145.5 M936.3,145.5 L938.1,137.6 L936.8,132.8 M897.4,178.0 L900.3,169.9 L901.7,161.5 L901.6,152.8 L904.2,144.7 M936.3,145.5 L928.3,143.5 L920.2,146.5 L912.2,145.2 L904.2,144.7 M501.0,132.2 L498.9,142.7 M498.9,142.7 L489.5,144.4 L480.5,139.7 L471.3,139.5 L462.0,140.2 M462.7,131.4 L462.0,140.2 M462.0,140.2 L459.6,141.8 L458.3,144.3 L458.0,147.8 L454.6,148.3 M454.6,148.3 L445.6,146.8 L438.7,140.1 L430.3,137.3 L421.6,135.2 M421.6,130.4 L421.6,135.2 M432.7,200.5 L432.8,198.4 L430.1,194.3 L430.2,189.7 M452.0,214.5 L459.1,218.0 L468.1,220.5 M430.2,189.7 L435.5,183.0 L441.2,176.6 L447.7,171.1 L455.4,166.9 M455.4,166.9 L462.2,170.1 L466.1,177.3 L472.4,181.3 L475.9,183.2 M468.1,220.5 L472.1,217.7 L477.0,216.8 M408.5,183.2 L413.7,185.5 L419.5,185.9 L425.3,186.4 L430.2,189.7 M408.5,183.2 L407.7,172.8 L405.5,162.6 L403.4,152.3 L402.8,141.9 M454.6,148.3 L456.0,152.9 L454.0,157.7 L456.1,162.2 L455.4,166.9 M402.8,141.9 L407.6,140.6 L411.8,137.4 L417.3,138.0 L421.6,135.2 M462.9,236.5 L464.4,232.5 L468.4,227.1 L468.1,220.5 M326.8,297.0 L333.2,293.2 L336.8,286.6 L344.1,283.7 L347.6,276.9 M326.8,297.0 L325.9,303.3 L328.2,309.0 L328.4,315.1 L331.1,320.8 M331.1,320.8 L334.4,323.3 M371.6,305.8 L369.4,312.9 L368.4,324.2 L367.9,325.0 M363.5,284.9 L363.4,284.8 L356.0,279.9 L347.6,276.9 M292.1,289.3 L294.1,288.3 M327.4,322.9 L331.1,320.8 M294.1,288.3 L296.2,289.0 M296.5,289.1 L302.1,291.1 L310.1,294.0 L318.1,296.8 L326.8,297.0 M387.5,219.3 L382.9,220.4 L379.0,220.7 M387.5,219.3 L395.1,224.1 L400.1,232.0 L405.0,236.3 M347.7,275.4 L354.7,271.9 L357.5,269.2 M347.7,275.4 L349.8,275.9 L345.6,276.0 L345.2,276.4 L347.6,276.9 M408.5,183.2 L405.2,186.0 L400.0,184.6 L398.2,190.6 L393.4,190.0 M393.4,190.0 L390.8,197.1 L389.0,204.4 L389.4,212.1 L387.5,219.3 M347.7,275.4 L344.9,267.5 L341.3,260.0 L336.5,253.0 L332.9,245.6 M334.5,236.5 L335.3,240.1 L332.9,245.6 M294.1,288.3 L296.3,278.6 L291.6,269.0 L293.5,259.3 L293.0,249.6 M332.9,245.6 L323.1,248.5 L313.1,249.1 L302.9,247.3 L293.0,249.6 M265.3,246.4 L270.8,240.8 L280.5,234.6 M280.5,234.6 L282.3,239.5 L288.4,240.8 L290.5,245.3 L293.0,249.6 M393.4,190.0 L386.2,186.5 L378.1,184.7 L372.3,178.1 L365.9,176.2 M402.8,141.9 L397.9,141.1 L394.0,137.0 L388.3,138.7 L383.9,136.4 M365.7,174.3 L371.5,167.0 L372.2,155.1 L380.1,146.8 L383.9,136.4 M383.9,136.4 L379.7,134.6 L378.1,130.9 L376.2,129.1 M351.6,128.4 L349.4,128.9 L339.3,131.5 M621.7,137.2 L617.0,136.2 L612.3,135.0 L607.4,134.7 L604.8,133.4 M621.7,137.2 L626.7,141.3 L626.3,148.4 L629.5,153.5 L633.3,158.3 M581.6,173.5 L581.7,171.6 L583.4,165.2 L581.0,158.8 L581.1,152.4 M633.3,158.3 L629.3,165.1 L622.7,169.6 L616.3,174.3 L616.0,174.8 M601.4,133.4 L596.3,136.1 L590.7,141.0 L586.9,147.8 L581.1,152.4 M623.1,133.3 L621.7,137.2 M71.3,330.3 L71.8,321.1 L70.1,312.4 L69.5,309.7 M71.3,330.3 L80.2,328.2 L89.4,327.5 L98.1,324.2 L107.4,324.3 M106.9,295.2 L105.8,302.5 L105.2,309.8 L109.0,317.0 L107.4,324.3 M106.9,295.2 L99.5,291.7 L91.6,289.7 L82.9,290.6 L78.0,287.5 M69.7,333.3 L70.2,332.6 L69.1,331.1 L71.4,331.3 L71.3,330.3 M128.0,342.8 L123.6,337.4 L116.9,334.5 L111.1,330.6 L107.4,324.3 M117.2,288.8 L113.6,288.8 L110.9,290.1 L109.1,293.0 L106.9,295.2 M783.2,437.2 L778.4,438.6 L773.9,440.7 L770.1,444.2 L765.2,445.4 M783.2,437.2 L790.1,442.3 L790.1,442.3 M765.2,445.4 L764.3,452.0 M784.7,416.6 L782.6,421.6 L781.8,426.8 L783.2,432.1 L783.2,437.2 M742.2,436.9 L748.6,437.1 L753.2,442.3 L759.1,444.1 L765.2,445.4 M742.2,436.9 L738.8,429.6 L739.1,421.1 L734.9,414.0 L732.5,406.4 M714.2,461.5 L707.6,454.6 L699.1,449.5 L691.3,443.6 M691.3,443.6 L688.5,446.5 L685.4,448.9 L681.0,448.6 L677.8,450.6 M677.8,450.6 L675.5,458.0 L671.7,464.9 L669.5,472.3 L668.6,475.9 M686.8,488.8 L686.7,488.8 L682.6,490.3 M742.2,436.9 L738.0,444.3 L733.2,451.4 L732.7,452.0 M700.2,418.5 L699.3,425.2 L695.2,430.8 L691.3,436.5 L691.3,443.6 M651.1,431.9 L657.7,436.6 L664.6,441.0 L671.4,445.4 L677.8,450.6 M731.0,314.7 L732.5,309.0 L730.4,304.0 M777.4,326.1 L774.5,317.4 L775.4,308.3 L773.6,299.5 L774.2,290.5 M774.2,290.5 L766.9,285.2 L757.7,284.0 L749.8,280.1 L748.4,279.3 M595.3,256.0 L600.4,259.2 L603.1,264.5 L608.2,267.6 L610.3,273.4 M595.3,256.0 L593.8,249.6 L596.1,243.6 L598.5,237.5 L597.6,232.0 M637.0,259.2 L634.9,248.7 L635.7,238.0 L637.0,229.3 M637.0,259.2 L629.6,261.3 L622.7,264.6 L616.6,269.1 L610.3,273.4 M610.3,273.4 L610.4,273.0 L610.4,273.1 L610.4,273.0 L610.3,273.4 M560.6,261.3 L569.3,260.3 L577.7,257.0 L586.9,258.9 L595.3,256.0 M574.9,305.3 L570.4,305.6 L568.9,299.9 L564.8,299.5 L561.0,298.4 M574.9,305.3 L583.9,297.6 L592.3,289.1 L602.5,282.6 L610.3,273.4 M560.2,297.0 L562.6,296.1 L562.7,296.5 L560.7,298.1 L561.0,298.4 M621.4,290.9 L620.9,290.0 L617.2,280.8 L610.3,273.4 M646.7,259.7 L642.5,260.6 L637.0,259.2 M583.0,324.0 L579.6,319.9 L578.4,314.9 L576.3,310.3 L574.9,305.3 M583.0,324.0 L589.3,328.8 L597.1,330.1 L605.1,331.0 L611.4,335.9 M899.1,295.2 L895.1,293.4 L890.2,293.8 L887.7,288.4 L882.9,288.6 M893.9,242.3 L886.4,247.1 L877.4,248.1 L869.3,251.5 L861.5,255.5 M861.5,255.5 L867.6,263.3 L873.4,271.2 L875.8,281.4 L882.9,288.6 M845.3,220.0 L851.2,227.9 L854.0,237.1 L857.4,246.1 L860.4,255.2 M861.5,255.5 L861.3,255.0 L860.8,256.0 L860.2,257.2 L860.4,255.2 M841.5,132.9 L837.4,141.2 M891.9,133.3 L892.1,132.9 M891.9,133.3 L882.4,138.0 L873.0,142.9 L864.0,148.4 L856.2,155.9 M856.2,155.9 L850.7,153.2 L848.1,146.9 L841.8,145.2 L837.4,141.2 M904.2,144.7 L900.0,143.0 L897.4,139.7 L896.3,134.7 L891.9,133.3 M858.0,168.2 L855.7,165.4 L859.3,161.7 L856.3,159.0 L856.2,155.9 M823.3,142.0 L826.8,141.2 L830.4,141.7 L833.9,141.1 L837.4,141.2 M823.3,142.0 L821.0,150.3 L818.8,158.7 L815.0,166.6 L813.5,175.2 M764.1,214.7 L764.2,212.2 L761.4,212.2 L758.6,212.2 L759.2,209.2 M759.2,209.2 L757.0,204.1 M786.5,170.5 L784.9,168.3 L781.9,167.8 L782.3,163.4 L778.7,163.5 M757.0,178.9 L758.7,177.5 L764.8,172.0 L772.3,168.5 L778.7,163.5 M773.5,133.0 L775.6,139.8 M811.1,133.0 L811.0,134.3 M811.0,134.3 L803.7,138.4 L794.8,137.1 L787.8,142.5 L779.4,143.1 M779.4,143.1 L778.4,142.3 L777.3,141.7 L777.8,139.1 L775.6,139.8 M823.3,142.0 L820.2,140.1 L816.4,139.3 L814.4,135.7 L811.0,134.3 M778.7,163.5 L780.9,158.5 L778.1,153.3 L776.9,148.1 L779.4,143.1 M639.4,159.0 L647.5,165.2 L651.8,174.8 M667.0,187.2 L667.6,188.1 M639.4,159.0 L637.6,161.1 L636.1,160.6 L635.0,156.5 L633.3,158.3 M667.0,189.6 L667.6,188.1 M542.6,173.0 L537.7,173.2 L536.7,173.5 M542.6,173.0 L544.4,161.1 L544.1,148.9 L545.5,137.0 L546.3,133.2 M522.4,173.4 L521.0,171.0 L516.5,171.1 L512.8,170.1 L510.8,166.5 M533.2,132.9 L527.3,136.2 L518.5,144.5 L508.2,150.5 M510.8,166.5 L512.5,162.1 L511.0,158.2 L508.8,154.5 L508.2,150.5 M543.2,173.5 L542.6,173.0 M581.1,152.4 L573.0,145.3 L565.3,137.9 L559.3,133.5 M496.7,172.7 L502.6,170.7 L510.8,166.5 M498.9,142.7 L501.4,144.4 L504.9,145.0 L504.6,150.0 L508.2,150.5 M326.9,163.5 L324.3,162.7 M324.3,162.7 L323.9,161.7 M561.8,363.5 L554.3,369.0 L550.1,374.5 M561.8,363.5 L569.0,368.2 L576.9,371.3 L585.4,372.8 L593.1,376.3 M593.1,376.3 L595.0,382.5 L592.1,388.4 L592.5,394.6 L592.1,397.7 M583.0,324.0 L576.3,329.5 L569.1,334.5 L563.3,341.1 L557.8,347.8 M606.1,364.1 L603.8,368.2 L599.4,370.0 L596.1,373.0 L593.1,376.3 M557.8,347.8 L561.2,351.1 L561.6,355.2 L561.5,359.4 L561.8,363.5 M609.8,411.1 L604.5,409.9 L603.3,409.1 M526.9,332.6 L528.9,331.1 L525.9,334.2 L528.7,332.0 L527.6,333.4 M526.9,332.6 L523.8,333.2 L521.7,330.8 L519.3,329.5 L516.6,329.0 M527.6,333.4 L525.9,345.5 L527.9,357.8 L524.3,369.9 L524.9,374.2 M516.6,329.0 L507.1,335.0 L498.8,339.8 M561.0,298.4 L551.1,305.6 L545.1,316.7 L533.8,322.4 L526.9,332.6 M557.8,347.8 L551.0,342.6 L542.4,341.1 L535.7,335.8 L527.6,333.4 M515.6,327.5 L516.6,329.0 M729.4,244.7 L725.7,239.7 M762.3,237.4 L758.3,243.6 L752.0,247.4 L746.5,252.0 L745.5,252.9 M793.0,252.9 L788.7,260.1 L789.6,268.7 L786.9,276.3 L784.5,283.9 M774.2,290.5 L778.0,290.8 L779.1,286.9 L782.8,287.0 L784.5,283.9 M759.2,209.2 L757.0,209.0 M851.3,301.4 L846.5,294.9 L844.2,287.0 L840.3,280.0 L835.0,273.8 M851.3,301.4 L851.9,308.6 L847.7,315.0 L845.6,321.8 L846.6,329.1 M813.8,326.6 L813.9,318.0 L814.1,309.4 L812.3,300.9 L813.0,292.3 M813.8,326.6 L821.1,326.3 L827.5,330.4 L834.5,332.1 L841.7,331.9 M813.0,292.3 L816.3,286.6 L820.4,281.6 L825.7,277.7 L830.6,273.6 M841.7,331.9 L843.3,331.7 L843.8,329.9 L846.6,331.8 L846.6,329.1 M830.6,273.6 L831.7,275.1 L832.7,275.7 L833.9,274.2 L835.0,273.8 M860.4,255.2 L853.3,258.8 L846.4,262.7 L842.7,271.0 L835.0,273.8 M882.9,288.6 L874.8,291.4 L867.7,296.4 L858.7,296.8 L851.3,301.4 M884.5,334.9 L874.8,334.8 L865.7,330.8 L856.0,331.4 L846.6,329.1 M791.3,336.9 L797.2,335.0 L802.9,332.5 L809.0,331.0 L813.8,326.6 M784.5,283.9 L791.1,287.8 L798.8,287.8 L805.6,291.1 L813.0,292.3 M841.7,358.9 L840.1,352.1 L839.7,345.4 L842.8,338.6 L841.7,331.9 M807.9,249.3 L812.1,256.7 L818.3,262.3 L824.9,267.5 L830.6,273.6 M724.1,137.1 L712.4,134.8 L703.9,133.1 M724.1,137.1 L725.4,138.2 L723.9,140.6 L726.7,140.9 L726.8,142.6 M726.8,142.6 L724.4,148.4 L724.5,154.3 L724.1,160.3 L725.2,166.3 M675.4,133.4 L676.9,145.1 L679.1,156.6 L682.2,167.9 L687.6,178.5 M675.4,133.4 L675.5,133.2 M725.2,166.3 L719.3,168.1 L716.7,172.0 M696.0,179.1 L692.8,177.7 L687.6,178.5 M724.9,133.1 L724.1,137.1 M775.6,139.8 L763.4,140.4 L751.2,141.2 L738.9,140.1 L726.8,142.6 M734.8,172.0 L731.4,171.4 L725.2,166.3 M639.4,159.0 L648.5,152.8 L658.0,147.0 L665.4,138.3 L675.4,133.4 M667.6,188.1 L673.5,187.7 L678.6,185.4 L683.6,183.0 L687.6,178.5 M306.5,207.3 L300.6,212.7 L291.8,212.1 L284.8,215.3 L278.8,220.6 M306.5,207.3 L307.0,202.3 M278.8,220.6 L276.1,216.3 L272.6,212.7 L266.4,212.6 L263.8,208.0 M265.8,192.4 L265.2,195.0 L261.2,199.8 M263.8,208.0 L262.4,206.2 L262.4,203.9 L263.7,201.3 L261.2,199.8 M323.5,217.4 L321.5,217.3 L313.6,213.2 L306.5,207.3 M280.5,234.6 L282.5,230.8 L280.0,227.6 L279.8,224.1 L278.8,220.6 M324.3,162.7 L323.4,164.4 M231.5,227.8 L238.8,221.6 L246.7,216.4 L256.0,213.4 L263.8,208.0 M257.6,197.2 L261.2,199.8" fill="none" stroke="#6e4059" stroke-width="0.7" opacity="0.4"/>
<polygon points="338.8,126.5 440.0,129.4 560.0,132.0 760.0,131.5 985.0,131.3 992.0,150.0 1004.0,183.0 990.0,186.0 973.0,186.0 950.0,195.0 920.0,205.0 906.0,215.0 925.0,211.0 944.0,210.0 965.0,212.0 983.0,215.0 988.0,222.0 1004.0,212.0 1016.0,233.0 1017.0,263.0 1012.0,268.0 988.0,278.0 968.0,302.0 950.0,293.0 938.5,300.0 934.0,313.0 925.3,326.5 919.4,338.2 909.0,347.0 922.4,350.0 934.0,339.7 937.0,354.4 948.8,347.0 957.6,354.4 943.0,369.0 931.0,383.8 925.3,389.7 901.8,388.2 884.0,388.2 862.0,395.6 840.0,408.8 828.0,419.2 793.0,440.0 787.0,451.8 778.0,469.4 766.5,496.0 762.0,509.0 756.0,500.3 728.0,498.8 697.4,507.6 568.8,376.0 540.0,376.0 441.0,374.0 436.0,347.0 424.0,338.0 410.0,340.4 411.2,328.5 366.0,326.4 271.0,321.6 247.3,327.5 196.0,343.4 176.0,349.3 39.8,351.3 42.5,314.0 59.0,312.5 70.7,307.5 74.0,289.3 79.0,284.4 98.8,272.8 128.6,269.5 138.5,264.5 151.7,256.3 161.7,249.6 171.6,241.4 185.0,239.7 198.0,233.0 201.4,216.5 214.6,213.3 232.0,200.8 237.0,213.3 246.8,205.8 261.7,191.0 285.9,190.5 294.7,194.1 302.0,187.5 307.9,177.2 312.4,169.9 319.7,162.5 327.0,158.1 335.1,161.1 332.9,150.8 336.6,143.4 337.4,133.1" fill="none" stroke="#3a3236" stroke-width="2.2" stroke-dasharray="4 2.5" stroke-linejoin="round"/>
<polyline points="901.0,159.8 910.8,167.0 908.4,186.2 906.0,210.3" fill="none" stroke="#3a3236" stroke-width="2" stroke-dasharray="4 2.5" opacity="0.85"/>
<polyline points="934.8,135.7 954.0,152.5 968.5,169.4 983.0,183.8" fill="none" stroke="#3a3236" stroke-width="2" stroke-dasharray="4 2.5" opacity="0.85"/>
<polyline points="963.7,164.6 997.4,183.8" fill="none" stroke="#3a3236" stroke-width="2" stroke-dasharray="4 2.5" opacity="0.85"/>
<polyline points="939.7,181.4 968.5,191.0" fill="none" stroke="#3a3236" stroke-width="2" stroke-dasharray="4 2.5" opacity="0.85"/>
<polyline points="980.0,140.0 990.0,160.0 1000.0,178.0" fill="none" stroke="#3a3236" stroke-width="2" stroke-dasharray="4 2.5" opacity="0.85"/>
<polyline points="865.0,277.7 900.0,290.0 934.8,306.6" fill="none" stroke="#3a3236" stroke-width="2" stroke-dasharray="4 2.5" opacity="0.85"/>
<polyline points="884.0,282.0 920.0,294.0 935.0,300.0" fill="none" stroke="#3a3236" stroke-width="2" stroke-dasharray="4 2.5" opacity="0.85"/>
<polyline points="912.0,345.0 925.0,330.0 937.0,318.0" fill="none" stroke="#3a3236" stroke-width="2" stroke-dasharray="4 2.5" opacity="0.85"/>
<polyline points="825.0,384.0 832.0,395.0 838.0,405.0" fill="none" stroke="#3a3236" stroke-width="2" stroke-dasharray="4 2.5" opacity="0.85"/>
<polyline points="1002.0,131.0 1010.0,165.0 1019.0,205.0 1030.0,222.0 1041.0,239.0 1048.0,268.0 1046.0,292.0 1041.0,316.0 1016.0,326.0 988.0,335.5 968.5,352.4 946.0,376.5 927.0,403.0" fill="none" stroke="#ae7390" stroke-width="3"/>
<polyline points="1002.0,131.0 1010.0,165.0 1019.0,205.0 1030.0,222.0 1041.0,239.0 1048.0,268.0 1046.0,292.0 1041.0,316.0 1016.0,326.0 988.0,335.5 968.5,352.4 946.0,376.5 927.0,403.0" fill="none" stroke="#3a3236" stroke-width="2" stroke-dasharray="4 2.5"/>
<text x="211" y="129.5" font-family="Liberation Sans" font-size="13.5" fill="#444" font-weight="normal" letter-spacing="0.0" stroke="#fff" stroke-width="2.5" stroke-opacity="0.8" paint-order="stroke">rch Hill</text>
<text x="263" y="117" font-family="Liberation Sans" font-size="13.5" fill="#444" font-weight="normal" letter-spacing="0.0" stroke="#fff" stroke-width="2.5" stroke-opacity="0.8" paint-order="stroke">Bristol</text>
<text x="226" y="159.5" font-family="Liberation Sans" font-size="13.5" fill="#444" font-weight="normal" letter-spacing="0.0" stroke="#fff" stroke-width="2.5" stroke-opacity="0.8" paint-order="stroke">Johnson City</text>
<text x="126" y="174" font-family="Liberation Sans" font-size="13.5" fill="#444" font-weight="normal" letter-spacing="0.0" stroke="#fff" stroke-width="2.5" stroke-opacity="0.8" paint-order="stroke">Morristown</text>
<text x="58" y="208.5" font-family="Liberation Sans" font-size="13.5" fill="#444" font-weight="normal" letter-spacing="0.0" stroke="#fff" stroke-width="2.5" stroke-opacity="0.8" paint-order="stroke">Knoxville</text>
<text x="143" y="208.5" font-family="Liberation Sans" font-size="13.5" fill="#444" font-weight="normal" letter-spacing="0.0" stroke="#fff" stroke-width="2.5" stroke-opacity="0.8" paint-order="stroke">Newport</text>
<text x="213.5" y="260.5" font-family="Liberation Sans" font-size="13.5" fill="#444" font-weight="normal" letter-spacing="0.0" stroke="#fff" stroke-width="2.5" stroke-opacity="0.8" paint-order="stroke">Asheville</text>
<text x="67" y="287" font-family="Liberation Sans" font-size="12.5" fill="#5a7d58" font-weight="normal" letter-spacing="-0.3" stroke="#fff" stroke-width="2.5" stroke-opacity="0.8" paint-order="stroke">Great Smoky Mountains</text>
<text x="93.4" y="302" font-family="Liberation Sans" font-size="12.5" fill="#5a7d58" font-weight="normal" letter-spacing="-0.3" stroke="#fff" stroke-width="2.5" stroke-opacity="0.8" paint-order="stroke">National Park</text>
<text x="27" y="333" font-family="Liberation Sans" font-size="13.5" fill="#5a7d58" font-weight="normal" letter-spacing="0.0" stroke="#fff" stroke-width="2.5" stroke-opacity="0.8" paint-order="stroke">herokee</text>
<text x="27" y="348" font-family="Liberation Sans" font-size="13.5" fill="#5a7d58" font-weight="normal" letter-spacing="0.0" stroke="#fff" stroke-width="2.5" stroke-opacity="0.8" paint-order="stroke">nal Forest</text>
<text x="401" y="235" font-family="Liberation Sans" font-size="13" fill="#444" font-weight="normal" letter-spacing="-0.2" stroke="#fff" stroke-width="2.5" stroke-opacity="0.8" paint-order="stroke">Statesville</text>
<text x="430" y="275.5" font-family="Liberation Sans" font-size="13" fill="#444" font-weight="normal" letter-spacing="-0.2" stroke="#fff" stroke-width="2.5" stroke-opacity="0.8" paint-order="stroke">Kannapolis</text>
<text x="406" y="312" font-family="Liberation Sans" font-size="13.5" fill="#333" font-weight="normal" letter-spacing="0.0" stroke="#fff" stroke-width="2.5" stroke-opacity="0.8" paint-order="stroke">Charlotte</text>
<text x="376" y="344" font-family="Liberation Sans" font-size="13.5" fill="#444" font-weight="normal" letter-spacing="0.0" stroke="#fff" stroke-width="2.5" stroke-opacity="0.8" paint-order="stroke">York</text>
<text x="228.4" y="365" font-family="Liberation Sans" font-size="13.5" fill="#444" font-weight="normal" letter-spacing="0.0" stroke="#fff" stroke-width="2.5" stroke-opacity="0.8" paint-order="stroke">Greenville</text>
<text x="174" y="388" font-family="Liberation Sans" font-size="13.5" fill="#444" font-weight="normal" letter-spacing="0.0" stroke="#fff" stroke-width="2.5" stroke-opacity="0.8" paint-order="stroke">Seneca</text>
<text x="63.7" y="441" font-family="Liberation Sans" font-size="13.5" fill="#444" font-weight="normal" letter-spacing="0.0" stroke="#fff" stroke-width="2.5" stroke-opacity="0.8" paint-order="stroke">Gainesville</text>
<text x="125.7" y="488" font-family="Liberation Sans" font-size="13.5" fill="#444" font-weight="normal" letter-spacing="0.0" stroke="#fff" stroke-width="2.5" stroke-opacity="0.8" paint-order="stroke">Athens</text>
<text x="27" y="479.5" font-family="Liberation Sans" font-size="13.5" fill="#444" font-weight="normal" letter-spacing="0.0" stroke="#fff" stroke-width="2.5" stroke-opacity="0.8" paint-order="stroke">swell</text>
<text x="34" y="518" font-family="Liberation Sans" font-size="13.5" fill="#444" font-weight="normal" letter-spacing="0.0" stroke="#fff" stroke-width="2.5" stroke-opacity="0.8" paint-order="stroke">Atlanta</text>
<text x="438" y="449" font-family="Liberation Sans" font-size="13.5" fill="#444" font-weight="normal" letter-spacing="0.0" stroke="#fff" stroke-width="2.5" stroke-opacity="0.8" paint-order="stroke">Camden</text>
<text x="553" y="455.5" font-family="Liberation Sans" font-size="13" fill="#444" font-weight="normal" letter-spacing="-0.2" stroke="#fff" stroke-width="2.5" stroke-opacity="0.8" paint-order="stroke">Florence</text>
<text x="520" y="193" font-family="Liberation Sans" font-size="13" fill="#444" font-weight="normal" letter-spacing="-0.3" stroke="#fff" stroke-width="2.5" stroke-opacity="0.8" paint-order="stroke">Greensboro</text>
<text x="632.5" y="205" font-family="Liberation Sans" font-size="13.5" fill="#444" font-weight="normal" letter-spacing="0.0" stroke="#fff" stroke-width="2.5" stroke-opacity="0.8" paint-order="stroke">Durham</text>
<text x="690" y="237.5" font-family="Liberation Sans" font-size="14.5" fill="#333" font-weight="normal" letter-spacing="0.0" stroke="#fff" stroke-width="2.5" stroke-opacity="0.8" paint-order="stroke">Raleigh</text>
<text x="749.5" y="213" font-family="Liberation Sans" font-size="12.5" fill="#444" font-weight="normal" letter-spacing="-0.4" stroke="#fff" stroke-width="2.5" stroke-opacity="0.8" paint-order="stroke">Rocky Mount</text>
<text x="750.4" y="244" font-family="Liberation Sans" font-size="13" fill="#444" font-weight="normal" letter-spacing="0.0" stroke="#fff" stroke-width="2.5" stroke-opacity="0.8" paint-order="stroke">Wilson</text>
<text x="803" y="259" font-family="Liberation Sans" font-size="13" fill="#444" font-weight="normal" letter-spacing="-0.2" stroke="#fff" stroke-width="2.5" stroke-opacity="0.8" paint-order="stroke">Greenville</text>
<text x="626" y="337" font-family="Liberation Sans" font-size="13.5" fill="#444" font-weight="normal" letter-spacing="-0.3" stroke="#fff" stroke-width="2.5" stroke-opacity="0.8" paint-order="stroke">Fayetteville</text>
<text x="791" y="379" font-family="Liberation Sans" font-size="13" fill="#444" font-weight="normal" letter-spacing="-0.3" stroke="#fff" stroke-width="2.5" stroke-opacity="0.8" paint-order="stroke">Jacksonville</text>
<text x="653.5" y="439" font-family="Liberation Sans" font-size="12.5" fill="#444" font-weight="normal" letter-spacing="-0.3" stroke="#fff" stroke-width="2.5" stroke-opacity="0.8" paint-order="stroke">Whiteville</text>
<text x="730" y="450" font-family="Liberation Sans" font-size="13.5" fill="#444" font-weight="normal" letter-spacing="-0.2" stroke="#fff" stroke-width="2.5" stroke-opacity="0.8" paint-order="stroke">Wilmington</text>
<text x="731" y="494.5" font-family="Liberation Sans" font-size="12.5" fill="#444" font-weight="normal" letter-spacing="-0.4" stroke="#fff" stroke-width="2.5" stroke-opacity="0.8" paint-order="stroke">Southport</text>
<text x="620.4" y="524" font-family="Liberation Sans" font-size="13" fill="#444" font-weight="normal" letter-spacing="-0.2" stroke="#fff" stroke-width="2.5" stroke-opacity="0.8" paint-order="stroke">Myrtle Beach</text>
<text x="995.4" y="195" font-family="Liberation Sans" font-size="12.5" fill="#444" font-weight="normal" letter-spacing="-0.5" stroke="#fff" stroke-width="2.5" stroke-opacity="0.8" paint-order="stroke">Kitty Hawk</text>
<circle cx="263" cy="165.5" r="2.2" fill="#222" stroke="#fff" stroke-width="1"/>
<circle cx="155" cy="178.4" r="2.2" fill="#222" stroke="#fff" stroke-width="1"/>
<circle cx="84.5" cy="214" r="2.2" fill="#222" stroke="#fff" stroke-width="1"/>
<circle cx="167.4" cy="214" r="2.2" fill="#222" stroke="#fff" stroke-width="1"/>
<circle cx="240" cy="266.3" r="2.2" fill="#222" stroke="#fff" stroke-width="1"/>
<circle cx="430" cy="239" r="2.2" fill="#222" stroke="#fff" stroke-width="1"/>
<circle cx="459" cy="279.7" r="2.2" fill="#222" stroke="#fff" stroke-width="1"/>
<circle cx="435.4" cy="317.4" r="2.2" fill="#222" stroke="#fff" stroke-width="1"/>
<circle cx="388.7" cy="350" r="2.2" fill="#222" stroke="#fff" stroke-width="1"/>
<circle cx="257" cy="370.5" r="2.2" fill="#222" stroke="#fff" stroke-width="1"/>
<circle cx="194" cy="393" r="2.2" fill="#222" stroke="#fff" stroke-width="1"/>
<circle cx="94.4" cy="446.4" r="2.2" fill="#222" stroke="#fff" stroke-width="1"/>
<circle cx="146.5" cy="493.6" r="2.2" fill="#222" stroke="#fff" stroke-width="1"/>
<circle cx="461.7" cy="454" r="2.2" fill="#222" stroke="#fff" stroke-width="1"/>
<circle cx="557" cy="460.6" r="2.2" fill="#222" stroke="#fff" stroke-width="1"/>
<circle cx="555" cy="199" r="2.2" fill="#222" stroke="#fff" stroke-width="1"/>
<circle cx="656" cy="209" r="2.2" fill="#222" stroke="#fff" stroke-width="1"/>
<circle cx="686" cy="240" r="2.2" fill="#222" stroke="#fff" stroke-width="1"/>
<circle cx="782" cy="217" r="2.2" fill="#222" stroke="#fff" stroke-width="1"/>
<circle cx="769" cy="248" r="2.2" fill="#222" stroke="#fff" stroke-width="1"/>
<circle cx="831.3" cy="263.3" r="2.2" fill="#222" stroke="#fff" stroke-width="1"/>
<circle cx="659.3" cy="342.2" r="2.2" fill="#222" stroke="#fff" stroke-width="1"/>
<circle cx="825" cy="384" r="2.2" fill="#222" stroke="#fff" stroke-width="1"/>
<circle cx="679.3" cy="443.5" r="2.2" fill="#222" stroke="#fff" stroke-width="1"/>
<circle cx="765" cy="454.7" r="2.2" fill="#222" stroke="#fff" stroke-width="1"/>
<circle cx="757.7" cy="498.6" r="2.2" fill="#222" stroke="#fff" stroke-width="1"/>
<circle cx="1022" cy="198.5" r="2.2" fill="#222" stroke="#fff" stroke-width="1"/>
<circle cx="233" cy="131" r="2.2" fill="#222" stroke="#fff" stroke-width="1"/>
<circle cx="305" cy="112" r="2.2" fill="#222" stroke="#fff" stroke-width="1"/>
<text x="569.6" y="267.1" font-family="Liberation Sans" font-size="15.5" font-weight="700" fill="#111" letter-spacing="2.3" stroke="#fff" stroke-width="3" paint-order="stroke">NORTH</text>
<text x="552.9" y="287.7" font-family="Liberation Sans" font-size="15.5" font-weight="700" fill="#111" letter-spacing="2.3" stroke="#fff" stroke-width="3" paint-order="stroke">CAROLINA</text>
<text x="397" y="496" font-family="Liberation Sans" font-size="15.5" font-weight="700" fill="#111" letter-spacing="2.3" stroke="#fff" stroke-width="3" paint-order="stroke">SOUTH</text>
<text x="381" y="515" font-family="Liberation Sans" font-size="15.5" font-weight="700" fill="#111" letter-spacing="2.3" stroke="#fff" stroke-width="3" paint-order="stroke">CAROLINA</text>
<g transform="translate(252,192)"><path d="M-9,-10 H9 V1 C9,7 4,10 0,12 C-4,10 -9,7 -9,1 Z" fill="#fff"/><path d="M-8,-9 H8 V-5 H-8 Z" fill="#d9443a"/><path d="M-8,-5 H8 V1 C8,6 4,9 0,11 C-4,9 -8,6 -8,1 Z" fill="#3a56a8"/><text x="0" y="4.5" font-family="Liberation Sans" font-size="8.5" font-weight="700" fill="#fff" text-anchor="middle">26</text></g>
<g transform="translate(419.5,359)"><path d="M-9,-10 H9 V1 C9,7 4,10 0,12 C-4,10 -9,7 -9,1 Z" fill="#fff"/><path d="M-8,-9 H8 V-5 H-8 Z" fill="#d9443a"/><path d="M-8,-5 H8 V1 C8,6 4,9 0,11 C-4,9 -8,6 -8,1 Z" fill="#3a56a8"/><text x="0" y="4.5" font-family="Liberation Sans" font-size="8.5" font-weight="700" fill="#fff" text-anchor="middle">77</text></g>
<g transform="translate(155.5,436.5)"><path d="M-9,-10 H9 V1 C9,7 4,10 0,12 C-4,10 -9,7 -9,1 Z" fill="#fff"/><path d="M-8,-9 H8 V-5 H-8 Z" fill="#d9443a"/><path d="M-8,-5 H8 V1 C8,6 4,9 0,11 C-4,9 -8,6 -8,1 Z" fill="#3a56a8"/><text x="0" y="4.5" font-family="Liberation Sans" font-size="8.5" font-weight="700" fill="#fff" text-anchor="middle">85</text></g>
<g transform="translate(531,484.7)"><path d="M-9,-10 H9 V1 C9,7 4,10 0,12 C-4,10 -9,7 -9,1 Z" fill="#fff"/><path d="M-8,-9 H8 V-5 H-8 Z" fill="#d9443a"/><path d="M-8,-5 H8 V1 C8,6 4,9 0,11 C-4,9 -8,6 -8,1 Z" fill="#3a56a8"/><text x="0" y="4.5" font-family="Liberation Sans" font-size="8.5" font-weight="700" fill="#fff" text-anchor="middle">95</text></g>
<g transform="translate(757.7,361.7)"><path d="M-9,-10 H9 V1 C9,7 4,10 0,12 C-4,10 -9,7 -9,1 Z" fill="#fff"/><path d="M-8,-9 H8 V-5 H-8 Z" fill="#d9443a"/><path d="M-8,-5 H8 V1 C8,6 4,9 0,11 C-4,9 -8,6 -8,1 Z" fill="#3a56a8"/><text x="0" y="4.5" font-family="Liberation Sans" font-size="8.5" font-weight="700" fill="#fff" text-anchor="middle">40</text></g>
<g transform="translate(609,386.5)"><path d="M-9,-10 H9 V1 C9,7 4,10 0,12 C-4,10 -9,7 -9,1 Z" fill="#fff"/><path d="M-8,-9 H8 V-5 H-8 Z" fill="#d9443a"/><path d="M-8,-5 H8 V1 C8,6 4,9 0,11 C-4,9 -8,6 -8,1 Z" fill="#3a56a8"/><text x="0" y="4.5" font-family="Liberation Sans" font-size="8.5" font-weight="700" fill="#fff" text-anchor="middle">74</text></g>
<g transform="translate(912.6,200)"><path d="M-9,-10 C-5,-8 5,-8 9,-10 L10,-3 C10,6 4,9 0,11 C-4,9 -10,6 -10,-3 Z" fill="#fff" stroke="#333" stroke-width="1"/><text x="0" y="4" font-family="Liberation Sans" font-size="9" font-weight="700" fill="#333" text-anchor="middle">17</text></g>
<g transform="translate(1032,222)"><path d="M-9,-10 C-5,-8 5,-8 9,-10 L10,-3 C10,6 4,9 0,11 C-4,9 -10,6 -10,-3 Z" fill="#fff" stroke="#333" stroke-width="1"/><text x="0" y="4" font-family="Liberation Sans" font-size="9" font-weight="700" fill="#333" text-anchor="middle">64</text></g>
<g transform="translate(872,335)"><path d="M-9,-10 C-5,-8 5,-8 9,-10 L10,-3 C10,6 4,9 0,11 C-4,9 -10,6 -10,-3 Z" fill="#fff" stroke="#333" stroke-width="1"/><text x="0" y="4" font-family="Liberation Sans" font-size="9" font-weight="700" fill="#333" text-anchor="middle">17</text></g>
<circle cx="934.4" cy="123.7" r="2.5" fill="#7ccbf0"/>
<g transform="translate(39,312)"><circle cx="0" cy="-4" r="5" fill="#4d7a49"/><rect x="-1" y="0" width="2" height="5" fill="#4d7a49"/></g>
<g transform="translate(136,265)"><circle cx="0" cy="-4" r="5" fill="#4d7a49"/><rect x="-1" y="0" width="2" height="5" fill="#4d7a49"/></g>
<g transform="translate(45.5,503.5)"><circle r="8" fill="#fff" opacity="0.9"/><circle r="6.3" fill="#8a8a8a" opacity="0.9"/><circle r="3.8" fill="#fff"/></g>
<text x="56" y="509" font-family="Liberation Sans" font-size="14.5" font-weight="700" fill="#fff" stroke="#7d7d7d" stroke-width="1.8" paint-order="stroke" opacity="0.9" letter-spacing="-0.3">mapbox</text>
<rect x="27" y="115" width="184" height="43" fill="#fff"/>
<rect x="27" y="158" width="184" height="1" fill="#c9d2de"/><rect x="211" y="115" width="1" height="44" fill="#c9d2de"/>
<defs><linearGradient id="lg" x1="0" x2="1"><stop offset="0" stop-color="#ae6f90"/><stop offset="0.5" stop-color="#e6e4ef"/><stop offset="1" stop-color="#3e86cc"/></linearGradient></defs>
<rect x="109" y="123.7" width="90" height="13.7" fill="url(#lg)" stroke="#a9b3c9" stroke-width="0.8"/>
</g>
<rect x="26.5" y="114.5" width="1035" height="408" fill="none" stroke="#aeb9c9" stroke-width="1"/>
</svg>
<span class="t" style="left:36.90px;top:125.39px;font-size:12.35px;font-weight:700;color:#111;letter-spacing:0.129px;">Sales</span>
<span class="t" style="left:36.90px;top:140.19px;font-size:12.35px;font-weight:700;color:#111;transform:scaleX(0.9205);transform-origin:0 0;">by County</span>
<span class="t" style="left:109.00px;top:140.49px;font-size:12.35px;color:#777;">0</span>
<span class="t" style="left:169.80px;top:140.49px;font-size:12.35px;color:#777;letter-spacing:-0.405px;transform:scaleX(0.9523);transform-origin:0 0;">1.14K</span>
<div class="r" style="left:26.00px;top:541.00px;width:246.00px;height:42.00px;background:#e8ecf3;"></div>
<div class="r" style="left:26.00px;top:583.00px;width:246.00px;height:274.00px;background:#f4f5f9;"></div>
<span class="t" style="left:65.80px;top:551.52px;font-size:20.35px;font-weight:700;color:#111;transform:scaleX(0.8471);transform-origin:0 0;">LISTINGS</span>
<span class="t" style="left:43.10px;top:599.62px;font-size:17.88px;font-weight:700;color:#111;transform:scaleX(0.8751);transform-origin:0 0;">Down from</span>
<span class="t" style="left:43.10px;top:618.82px;font-size:17.88px;font-weight:700;color:#111;transform:scaleX(0.8568);transform-origin:0 0;">previous month</span>
<div class="r" style="left:42.00px;top:646.50px;width:214.00px;height:1.50px;background:#d9dee6;"></div>
<span class="t" style="left:42.50px;top:685.86px;font-size:15.70px;font-weight:700;color:#5d6876;letter-spacing:0.180px;">State</span>
<div class="r" style="left:42.00px;top:740.00px;width:214.00px;height:1.50px;background:#d9dee6;"></div>
<div class="r" style="left:42.00px;top:799.50px;width:214.00px;height:1.50px;background:#d9dee6;"></div>
<span class="t" style="left:167.80px;top:681.28px;font-size:30.09px;font-weight:700;color:#111;transform:scaleX(0.9434);transform-origin:0 0;">61,933</span>
<span class="t" style="left:42.50px;top:752.55px;font-size:15.12px;color:#6e7681;letter-spacing:1.074px;">11/24</span>
<span class="t" style="left:132.00px;top:752.55px;font-size:15.12px;color:#6e7681;letter-spacing:0.649px;">11/23</span>
<span class="t" style="left:214.40px;top:752.55px;font-size:15.12px;color:#6e7681;letter-spacing:0.899px;">11/22</span>
<span class="t" style="left:43.20px;top:775.55px;font-size:15.12px;color:#111;letter-spacing:-0.073px;transform:scaleX(0.9922);transform-origin:0 0;">55,218</span>
<span class="t" style="left:128.70px;top:775.55px;font-size:15.12px;color:#111;">47,619</span>
<span class="t" style="left:208.70px;top:775.55px;font-size:15.12px;color:#111;letter-spacing:-0.033px;transform:scaleX(0.9965);transform-origin:0 0;">49,461</span>
<div class="r" style="left:113.00px;top:750.00px;width:1.20px;height:37.00px;background:#d9dee6;"></div>
<div class="r" style="left:189.00px;top:750.00px;width:1.20px;height:37.00px;background:#d9dee6;"></div>
<span class="t" style="left:42.50px;top:814.38px;font-size:13.08px;color:#6e7681;letter-spacing:-0.553px;transform:scaleX(0.9615);transform-origin:0 0;">YOY</span>
<span class="t" style="left:42.50px;top:829.68px;font-size:13.08px;color:#6e7681;letter-spacing:0.299px;">change</span>
<span class="t" style="left:177.50px;top:815.81px;font-size:30.52px;font-weight:700;color:#3b84c9;transform:scaleX(0.8921);transform-origin:0 0;">12.1%</span>
<div class="r" style="left:289.00px;top:541.00px;width:246.00px;height:42.00px;background:#e8ecf3;"></div>
<div class="r" style="left:289.00px;top:583.00px;width:246.00px;height:274.00px;background:#f4f5f9;"></div>
<span class="t" style="left:327.70px;top:551.52px;font-size:20.35px;font-weight:700;color:#111;transform:scaleX(0.8299);transform-origin:0 0;">SALES</span>
<span class="t" style="left:306.10px;top:599.62px;font-size:17.88px;font-weight:700;color:#111;transform:scaleX(0.8751);transform-origin:0 0;">Down from</span>
<span class="t" style="left:306.10px;top:618.82px;font-size:17.88px;font-weight:700;color:#111;transform:scaleX(0.8568);transform-origin:0 0;">previous month</span>
<div class="r" style="left:305.00px;top:646.50px;width:214.00px;height:1.50px;background:#d9dee6;"></div>
<span class="t" style="left:305.50px;top:685.86px;font-size:15.70px;font-weight:700;color:#5d6876;letter-spacing:0.180px;">State</span>
<div class="r" style="left:305.00px;top:740.00px;width:214.00px;height:1.50px;background:#d9dee6;"></div>
<div class="r" style="left:305.00px;top:799.50px;width:214.00px;height:1.50px;background:#d9dee6;"></div>
<span class="t" style="left:446.80px;top:681.28px;font-size:30.09px;font-weight:700;color:#111;transform:scaleX(0.9405);transform-origin:0 0;">8,133</span>
<span class="t" style="left:305.50px;top:752.55px;font-size:15.12px;color:#6e7681;letter-spacing:1.074px;">11/24</span>
<span class="t" style="left:395.00px;top:752.55px;font-size:15.12px;color:#6e7681;letter-spacing:0.649px;">11/23</span>
<span class="t" style="left:477.40px;top:752.55px;font-size:15.12px;color:#6e7681;letter-spacing:0.899px;">11/22</span>
<span class="t" style="left:306.20px;top:775.55px;font-size:15.12px;color:#111;letter-spacing:-0.093px;transform:scaleX(0.9900);transform-origin:0 0;">10,569</span>
<span class="t" style="left:391.30px;top:775.55px;font-size:15.12px;color:#111;letter-spacing:-0.033px;transform:scaleX(0.9965);transform-origin:0 0;">10,632</span>
<span class="t" style="left:471.70px;top:775.55px;font-size:15.12px;color:#111;letter-spacing:-0.072px;transform:scaleX(0.9923);transform-origin:0 0;">11,617</span>
<div class="r" style="left:376.00px;top:750.00px;width:1.20px;height:37.00px;background:#d9dee6;"></div>
<div class="r" style="left:452.00px;top:750.00px;width:1.20px;height:37.00px;background:#d9dee6;"></div>
<span class="t" style="left:305.50px;top:814.38px;font-size:13.08px;color:#6e7681;letter-spacing:-0.553px;transform:scaleX(0.9615);transform-origin:0 0;">YOY</span>
<span class="t" style="left:305.50px;top:829.68px;font-size:13.08px;color:#6e7681;letter-spacing:0.299px;">change</span>
<span class="t" style="left:431.00px;top:815.81px;font-size:30.52px;font-weight:700;color:#d43f2a;transform:scaleX(0.8966);transform-origin:0 0;">-23.1%</span>
<div class="r" style="left:552.00px;top:541.00px;width:246.00px;height:42.00px;background:#e8ecf3;"></div>
<div class="r" style="left:552.00px;top:583.00px;width:246.00px;height:274.00px;background:#f4f5f9;"></div>
<span class="t" style="left:590.60px;top:551.52px;font-size:20.35px;font-weight:700;color:#111;transform:scaleX(0.8457);transform-origin:0 0;">MEDIAN SALES PRICE</span>
<span class="t" style="left:569.10px;top:599.62px;font-size:17.88px;font-weight:700;color:#111;transform:scaleX(0.8712);transform-origin:0 0;">Up from</span>
<span class="t" style="left:569.10px;top:618.82px;font-size:17.88px;font-weight:700;color:#111;transform:scaleX(0.8568);transform-origin:0 0;">previous month</span>
<div class="r" style="left:568.00px;top:646.50px;width:214.00px;height:1.50px;background:#d9dee6;"></div>
<span class="t" style="left:568.50px;top:685.86px;font-size:15.70px;font-weight:700;color:#5d6876;letter-spacing:0.180px;">State</span>
<div class="r" style="left:568.00px;top:740.00px;width:214.00px;height:1.50px;background:#d9dee6;"></div>
<div class="r" style="left:568.00px;top:799.50px;width:214.00px;height:1.50px;background:#d9dee6;"></div>
<span class="t" style="left:659.60px;top:681.28px;font-size:30.09px;font-weight:700;color:#111;transform:scaleX(0.9644);transform-origin:0 0;">$380,000</span>
<span class="t" style="left:568.50px;top:752.55px;font-size:15.12px;color:#6e7681;letter-spacing:1.074px;">11/24</span>
<span class="t" style="left:658.00px;top:752.55px;font-size:15.12px;color:#6e7681;letter-spacing:0.649px;">11/23</span>
<span class="t" style="left:740.40px;top:752.55px;font-size:15.12px;color:#6e7681;letter-spacing:0.899px;">11/22</span>
<span class="t" style="left:568.40px;top:775.55px;font-size:15.12px;color:#111;letter-spacing:0.075px;">$362K</span>
<span class="t" style="left:654.60px;top:775.55px;font-size:15.12px;color:#111;letter-spacing:0.350px;">$350K</span>
<span class="t" style="left:735.50px;top:775.55px;font-size:15.12px;color:#111;letter-spacing:0.200px;">$345K</span>
<div class="r" style="left:639.00px;top:750.00px;width:1.20px;height:37.00px;background:#d9dee6;"></div>
<div class="r" style="left:715.00px;top:750.00px;width:1.20px;height:37.00px;background:#d9dee6;"></div>
<span class="t" style="left:568.50px;top:814.38px;font-size:13.08px;color:#6e7681;letter-spacing:-0.553px;transform:scaleX(0.9615);transform-origin:0 0;">YOY</span>
<span class="t" style="left:568.50px;top:829.68px;font-size:13.08px;color:#6e7681;letter-spacing:0.299px;">change</span>
<span class="t" style="left:718.40px;top:815.81px;font-size:30.52px;font-weight:700;color:#3b84c9;transform:scaleX(0.8956);transform-origin:0 0;">4.9%</span>
<div class="r" style="left:815.00px;top:541.00px;width:246.00px;height:42.00px;background:#e8ecf3;"></div>
<div class="r" style="left:815.00px;top:583.00px;width:246.00px;height:274.00px;background:#f4f5f9;"></div>
<span class="t" style="left:852.80px;top:551.52px;font-size:20.35px;font-weight:700;color:#111;transform:scaleX(0.8442);transform-origin:0 0;">INVENTORY</span>
<span class="t" style="left:832.10px;top:599.62px;font-size:17.88px;font-weight:700;color:#111;transform:scaleX(0.8411);transform-origin:0 0;">Seller&#x27;s</span>
<span class="t" style="left:832.10px;top:618.82px;font-size:17.88px;font-weight:700;color:#111;transform:scaleX(0.8990);transform-origin:0 0;">market</span>
<div class="r" style="left:831.00px;top:646.50px;width:214.00px;height:1.50px;background:#d9dee6;"></div>
<span class="t" style="left:831.50px;top:685.86px;font-size:15.70px;font-weight:700;color:#5d6876;letter-spacing:0.180px;">State</span>
<div class="r" style="left:831.00px;top:740.00px;width:214.00px;height:1.50px;background:#d9dee6;"></div>
<div class="r" style="left:831.00px;top:799.50px;width:214.00px;height:1.50px;background:#d9dee6;"></div>
<span class="t" style="left:831.50px;top:814.38px;font-size:13.08px;color:#6e7681;letter-spacing:-0.553px;transform:scaleX(0.9615);transform-origin:0 0;">YOY</span>
<span class="t" style="left:831.50px;top:829.68px;font-size:13.08px;color:#6e7681;letter-spacing:0.299px;">change</span>
<span class="t" style="left:962.50px;top:815.81px;font-size:30.52px;font-weight:700;color:#3b84c9;transform:scaleX(0.9375);transform-origin:0 0;">11.3%</span>
<span class="t" style="left:934.50px;top:681.28px;font-size:30.09px;font-weight:700;color:#111;transform:scaleX(0.9411);transform-origin:0 0;">5.16</span>
<span class="t" style="left:998.00px;top:689.78px;font-size:14.97px;font-weight:700;color:#111;transform:scaleX(0.8509);transform-origin:0 0;">months</span>
<span class="t" style="left:864.40px;top:756.39px;font-size:14.24px;color:#222;letter-spacing:-0.086px;transform:scaleX(0.9899);transform-origin:0 0;">6 months</span>
<span class="t" style="left:935.60px;top:755.39px;font-size:14.24px;color:#222;">=</span>
<span class="t" style="left:957.50px;top:756.39px;font-size:14.24px;color:#222;letter-spacing:-0.287px;transform:scaleX(0.9673);transform-origin:0 0;">Balanced</span>
<span class="t" style="left:957.50px;top:772.19px;font-size:14.24px;color:#222;letter-spacing:-0.208px;transform:scaleX(0.9767);transform-origin:0 0;">market</span>
<div class="r" style="left:26.50px;top:875.30px;width:308.20px;height:71.20px;background:#f3f5f9;"></div>
<span class="t" style="left:86.20px;top:890.36px;font-size:18.90px;font-weight:700;color:#111;transform:scaleX(0.8961);transform-origin:0 0;">PRICE RANGE</span>
<span class="t" style="left:86.20px;top:913.26px;font-size:18.90px;font-weight:700;color:#111;transform:scaleX(0.9075);transform-origin:0 0;">STATISTICS</span>
<span class="t" style="left:28.20px;top:964.52px;font-size:18.46px;color:#222;letter-spacing:-0.195px;transform:scaleX(0.9787);transform-origin:0 0;">Listings Trends</span>
<div class="r" style="left:26.50px;top:992.00px;width:31.70px;height:21.50px;background:#e1ebf6;"></div>
<div class="r" style="left:26.50px;top:1023.00px;width:31.70px;height:20.50px;background:#f8e1e1;"></div>
<span class="t" style="left:69.40px;top:996.74px;font-size:15.84px;color:#6e7681;letter-spacing:-0.163px;transform:scaleX(0.9803);transform-origin:0 0;">More than 5% increase (YOY)</span>
<span class="t" style="left:69.40px;top:1027.64px;font-size:15.84px;color:#6e7681;letter-spacing:-0.187px;transform:scaleX(0.9781);transform-origin:0 0;">More than 5% decrease (YOY)</span>
<span class="t" style="left:354.60px;top:874.56px;font-size:13.81px;color:#6e7681;letter-spacing:0.482px;">Listing</span>
<span class="t" style="left:354.60px;top:891.66px;font-size:13.81px;color:#6e7681;letter-spacing:0.083px;">Price Range</span>
<span class="t" style="left:633.60px;top:874.56px;font-size:13.81px;color:#6e7681;letter-spacing:0.527px;">Listings</span>
<span class="t" style="left:639.40px;top:891.66px;font-size:13.81px;color:#6e7681;letter-spacing:0.146px;">(Nov.)</span>
<span class="t" style="left:784.20px;top:874.56px;font-size:13.81px;color:#6e7681;letter-spacing:0.258px;">Sales in Previous</span>
<span class="t" style="left:806.80px;top:891.66px;font-size:13.81px;color:#6e7681;letter-spacing:0.379px;">12 Months</span>
<span class="t" style="left:988.70px;top:874.56px;font-size:13.81px;color:#6e7681;letter-spacing:0.630px;">Months of</span>
<span class="t" style="left:991.30px;top:891.66px;font-size:13.81px;color:#6e7681;letter-spacing:0.326px;">Inventory</span>
<div class="r" style="left:622.00px;top:911.40px;width:73.10px;height:33.79px;background:#f8e2e1;"></div>
<div class="r" style="left:795.20px;top:911.40px;width:72.80px;height:33.79px;background:#f8e2e1;"></div>
<div class="r" style="left:986.90px;top:911.40px;width:73.50px;height:33.79px;background:#f8e2e1;"></div>
<div class="r" style="left:353.00px;top:945.00px;width:707.40px;height:1.00px;background:#d9dfe7;"></div>
<span class="t" style="left:354.60px;top:921.34px;font-size:13.95px;color:#111;letter-spacing:0.218px;white-space:pre;">Below $125,000</span>
<span class="t" style="left:648.59px;top:921.34px;font-size:13.95px;color:#111;">1,060</span>
<span class="t" style="left:822.09px;top:921.34px;font-size:13.95px;color:#111;">3,333</span>
<span class="t" style="left:1029.40px;top:921.34px;font-size:13.95px;color:#111;">3.8</span>
<div class="r" style="left:795.20px;top:945.19px;width:72.80px;height:33.79px;background:#f8e2e1;"></div>
<div class="r" style="left:986.90px;top:945.19px;width:73.50px;height:33.79px;background:#e3ecf7;"></div>
<div class="r" style="left:353.00px;top:979.00px;width:707.40px;height:1.00px;background:#d9dfe7;"></div>
<span class="t" style="left:354.60px;top:955.13px;font-size:13.95px;color:#111;letter-spacing:0.258px;white-space:pre;">$125,000  –  $249,999</span>
<span class="t" style="left:648.59px;top:955.13px;font-size:13.95px;color:#111;">8,375</span>
<span class="t" style="left:814.33px;top:955.13px;font-size:13.95px;color:#111;">22,679</span>
<span class="t" style="left:1029.40px;top:955.13px;font-size:13.95px;color:#111;">4.4</span>
<div class="r" style="left:622.00px;top:978.98px;width:73.10px;height:33.79px;background:#e3ecf7;"></div>
<div class="r" style="left:986.90px;top:978.98px;width:73.50px;height:33.79px;background:#e3ecf7;"></div>
<div class="r" style="left:353.00px;top:1013.00px;width:707.40px;height:1.00px;background:#d9dfe7;"></div>
<span class="t" style="left:354.60px;top:988.92px;font-size:13.95px;color:#111;letter-spacing:0.258px;white-space:pre;">$250,000  –  $374,999</span>
<span class="t" style="left:640.83px;top:988.92px;font-size:13.95px;color:#111;">18,657</span>
<span class="t" style="left:814.33px;top:988.92px;font-size:13.95px;color:#111;">45,804</span>
<span class="t" style="left:1029.40px;top:988.92px;font-size:13.95px;color:#111;">4.9</span>
<div class="r" style="left:622.00px;top:1012.77px;width:73.10px;height:33.79px;background:#e3ecf7;"></div>
<div class="r" style="left:986.90px;top:1012.77px;width:73.50px;height:33.79px;background:#e3ecf7;"></div>
<div class="r" style="left:353.00px;top:1047.00px;width:707.40px;height:1.00px;background:#d9dfe7;"></div>
<span class="t" style="left:354.60px;top:1022.71px;font-size:13.95px;color:#111;letter-spacing:0.258px;white-space:pre;">$375,000  –  $499,999</span>
<span class="t" style="left:640.83px;top:1022.71px;font-size:13.95px;color:#111;">13,791</span>
<span class="t" style="left:814.33px;top:1022.71px;font-size:13.95px;color:#111;">32,342</span>
<span class="t" style="left:1029.40px;top:1022.71px;font-size:13.95px;color:#111;">5.1</span>
<div class="r" style="left:622.00px;top:1046.56px;width:73.10px;height:33.79px;background:#e3ecf7;"></div>
<div class="r" style="left:795.20px;top:1046.56px;width:72.80px;height:33.79px;background:#e3ecf7;"></div>
<div class="r" style="left:986.90px;top:1046.56px;width:73.50px;height:33.79px;background:#e3ecf7;"></div>
<div class="r" style="left:353.00px;top:1080.00px;width:707.40px;height:1.00px;background:#d9dfe7;"></div>
<span class="t" style="left:354.60px;top:1056.50px;font-size:13.95px;color:#111;letter-spacing:0.258px;white-space:pre;">$500,000  –  $624,999</span>
<span class="t" style="left:648.59px;top:1056.50px;font-size:13.95px;color:#111;">6,488</span>
<span class="t" style="left:814.33px;top:1056.50px;font-size:13.95px;color:#111;">14,583</span>
<span class="t" style="left:1029.40px;top:1056.50px;font-size:13.95px;color:#111;">5.3</span>
<div class="r" style="left:622.00px;top:1080.35px;width:73.10px;height:33.79px;background:#e3ecf7;"></div>
<div class="r" style="left:795.20px;top:1080.35px;width:72.80px;height:33.79px;background:#e3ecf7;"></div>
<div class="r" style="left:986.90px;top:1080.35px;width:73.50px;height:33.79px;background:#e3ecf7;"></div>
<div class="r" style="left:353.00px;top:1114.00px;width:707.40px;height:1.00px;background:#d9dfe7;"></div>
<span class="t" style="left:354.60px;top:1090.29px;font-size:13.95px;color:#111;letter-spacing:0.258px;white-space:pre;">$625,000  –  $749,999</span>
<span class="t" style="left:648.59px;top:1090.29px;font-size:13.95px;color:#111;">4,228</span>
<span class="t" style="left:822.09px;top:1090.29px;font-size:13.95px;color:#111;">9,042</span>
<span class="t" style="left:1029.40px;top:1090.29px;font-size:13.95px;color:#111;">5.6</span>
<div class="r" style="left:622.00px;top:1114.14px;width:73.10px;height:33.79px;background:#e3ecf7;"></div>
<div class="r" style="left:795.20px;top:1114.14px;width:72.80px;height:33.79px;background:#e3ecf7;"></div>
<div class="r" style="left:986.90px;top:1114.14px;width:73.50px;height:33.79px;background:#e3ecf7;"></div>
<div class="r" style="left:353.00px;top:1148.00px;width:707.40px;height:1.00px;background:#d9dfe7;"></div>
<span class="t" style="left:354.60px;top:1124.08px;font-size:13.95px;color:#111;letter-spacing:0.258px;white-space:pre;">$750,000  –  $874,999</span>
<span class="t" style="left:648.59px;top:1124.08px;font-size:13.95px;color:#111;">2,491</span>
<span class="t" style="left:822.09px;top:1124.08px;font-size:13.95px;color:#111;">5,193</span>
<span class="t" style="left:1029.40px;top:1124.08px;font-size:13.95px;color:#111;">5.8</span>
<div class="r" style="left:622.00px;top:1147.93px;width:73.10px;height:33.79px;background:#e3ecf7;"></div>
<div class="r" style="left:795.20px;top:1147.93px;width:72.80px;height:33.79px;background:#e3ecf7;"></div>
<div class="r" style="left:986.90px;top:1147.93px;width:73.50px;height:33.79px;background:#e3ecf7;"></div>
<div class="r" style="left:353.00px;top:1182.00px;width:707.40px;height:1.00px;background:#d9dfe7;"></div>
<span class="t" style="left:354.60px;top:1157.87px;font-size:13.95px;color:#111;letter-spacing:0.258px;white-space:pre;">$875,000  –  $999,999</span>
<span class="t" style="left:648.59px;top:1157.87px;font-size:13.95px;color:#111;">1,767</span>
<span class="t" style="left:822.09px;top:1157.87px;font-size:13.95px;color:#111;">3,327</span>
<span class="t" style="left:1029.40px;top:1157.87px;font-size:13.95px;color:#111;">6.4</span>
<div class="r" style="left:622.00px;top:1181.72px;width:73.10px;height:33.79px;background:#e3ecf7;"></div>
<div class="r" style="left:795.20px;top:1181.72px;width:72.80px;height:33.79px;background:#e3ecf7;"></div>
<div class="r" style="left:353.00px;top:1216.00px;width:707.40px;height:1.00px;background:#d9dfe7;"></div>
<span class="t" style="left:354.60px;top:1191.66px;font-size:13.95px;color:#111;letter-spacing:0.396px;white-space:pre;">$1M  –  $1.99M</span>
<span class="t" style="left:648.59px;top:1191.66px;font-size:13.95px;color:#111;">3,661</span>
<span class="t" style="left:822.09px;top:1191.66px;font-size:13.95px;color:#111;">6,363</span>
<span class="t" style="left:1029.40px;top:1191.66px;font-size:13.95px;color:#111;">6.9</span>
<div class="r" style="left:622.00px;top:1215.51px;width:73.10px;height:33.79px;background:#e3ecf7;"></div>
<div class="r" style="left:795.20px;top:1215.51px;width:72.80px;height:33.79px;background:#e3ecf7;"></div>
<div class="r" style="left:986.90px;top:1215.51px;width:73.50px;height:33.79px;background:#e3ecf7;"></div>
<span class="t" style="left:354.60px;top:1225.45px;font-size:13.95px;color:#111;letter-spacing:0.168px;white-space:pre;">$2M  and  up</span>
<span class="t" style="left:648.59px;top:1225.45px;font-size:13.95px;color:#111;">1,415</span>
<span class="t" style="left:822.09px;top:1225.45px;font-size:13.95px;color:#111;">1,281</span>
<span class="t" style="left:1021.65px;top:1225.45px;font-size:13.95px;color:#111;">13.3</span>
<div class="r" style="left:353.00px;top:911.00px;width:707.40px;height:2.00px;background:#aeb8c4;"></div>
<div class="r" style="left:26.50px;top:1260.60px;width:1034.20px;height:1.40px;background:#e3e7ec;"></div>
<div class="r" style="left:89.20px;top:1273.00px;width:1.20px;height:89.00px;background:#dfe3e8;"></div>
<span class="t" style="left:103.00px;top:1274.68px;font-size:16.86px;font-weight:700;color:#111;transform:scaleX(0.8663);transform-origin:0 0;">This report is compiled by RPR® with MLS data.</span>
<span class="t" style="left:103.00px;top:1312.38px;font-size:16.86px;font-weight:700;color:#111;transform:scaleX(0.8514);transform-origin:0 0;">RPR® is a wholly owned subsidiary of the NATIONAL ASSOCIATION OF REALTORS®</span>
<span class="t" style="left:831.20px;top:1274.11px;font-size:17.30px;font-weight:700;color:#111;transform:scaleX(0.8062);transform-origin:0 0;">PRESENTED BY:</span>
<span class="t" style="left:831.20px;top:1299.88px;font-size:14.97px;color:#99abc4;letter-spacing:-0.127px;transform:scaleX(0.9843);transform-origin:0 0;-webkit-text-stroke:0.25px #99abc4;">Contact:</span>
<span class="t" style="left:892.60px;top:1299.88px;font-size:14.97px;color:#111;letter-spacing:-0.102px;transform:scaleX(0.9878);transform-origin:0 0;">Maurice Brown</span>
<span class="t" style="left:892.60px;top:1320.78px;font-size:14.97px;color:#111;letter-spacing:-0.092px;transform:scaleX(0.9876);transform-origin:0 0;">Local Advocacy Director</span>
<span class="t" style="left:831.20px;top:1341.78px;font-size:14.97px;color:#99abc4;letter-spacing:-0.336px;transform:scaleX(0.9658);transform-origin:0 0;-webkit-text-stroke:0.25px #99abc4;">Phone:</span>
<span class="t" style="left:892.60px;top:1341.78px;font-size:14.97px;color:#111;letter-spacing:-0.068px;transform:scaleX(0.9914);transform-origin:0 0;">(336) 294-1415</span>
<span class="t" style="left:831.20px;top:1362.88px;font-size:14.97px;color:#99abc4;letter-spacing:-0.289px;transform:scaleX(0.9665);transform-origin:0 0;-webkit-text-stroke:0.25px #99abc4;">Email:</span>
<span class="t" style="left:892.60px;top:1362.88px;font-size:14.97px;color:#111;letter-spacing:-0.064px;transform:scaleX(0.9920);transform-origin:0 0;">mbrown@ncrealtors.org</span>
<svg class="r" style="left:0;top:0" width="1088" height="1408" viewBox="0 0 1088 1408">
<g fill="none" stroke="#111" stroke-width="1.5" stroke-linecap="butt"><line x1="38.4" y1="552" x2="38.4" y2="573.5"/><line x1="35.2" y1="555" x2="57" y2="555"/><line x1="43.5" y1="555" x2="43.5" y2="558"/><line x1="54" y1="555" x2="54" y2="558"/><rect x="41.8" y="558.3" width="14" height="9.3" rx="1.2"/></g>
<g fill="none" stroke="#111" stroke-width="1.5"><polyline points="298.6,554 298.6,570 320,570"/><line x1="303.5" y1="563" x2="303.5" y2="567"/><line x1="307.5" y1="559" x2="307.5" y2="567"/><line x1="311.5" y1="561" x2="311.5" y2="567"/><line x1="315.5" y1="556.5" x2="315.5" y2="567"/></g>
<g fill="none" stroke="#111" stroke-width="1.6" stroke-linejoin="round"><path d="M560.8,552.2 H571.3 L581.3,562.6 L571.2,572.8 L560.8,562.8 Z"/><circle cx="566" cy="557.9" r="1.6"/></g>
<g fill="none" stroke="#111" stroke-width="1.5"><rect x="826" y="555" width="18" height="17.5" rx="1.5"/><line x1="826" y1="559.5" x2="844" y2="559.5"/><line x1="830" y1="552" x2="830" y2="556"/><line x1="840" y1="552" x2="840" y2="556"/></g>
<g fill="#111">
<rect x="829.0" y="562.5" width="2.6" height="2.6"/>
<rect x="829.0" y="566.5" width="2.6" height="2.6"/>
<rect x="833.3" y="562.5" width="2.6" height="2.6"/>
<rect x="833.3" y="566.5" width="2.6" height="2.6"/>
<rect x="837.6" y="562.5" width="2.6" height="2.6"/>
<rect x="837.6" y="566.5" width="2.6" height="2.6"/>
</g>
<circle cx="233.5" cy="615.4" r="21.5" fill="#d4402a"/>
<g stroke="#fff" stroke-width="5" stroke-linecap="round" stroke-linejoin="round" fill="none"><line x1="233.5" y1="603.5" x2="233.5" y2="626"/><polyline points="223.0,615.5 233.5,626.5 244.0,615.5"/></g>
<circle cx="496.5" cy="615.4" r="21.5" fill="#d4402a"/>
<g stroke="#fff" stroke-width="5" stroke-linecap="round" stroke-linejoin="round" fill="none"><line x1="496.5" y1="603.5" x2="496.5" y2="626"/><polyline points="486.0,615.5 496.5,626.5 507.0,615.5"/></g>
<circle cx="758.4" cy="615.4" r="21.5" fill="#3d86d0"/>
<g stroke="#fff" stroke-width="5" stroke-linecap="round" stroke-linejoin="round" fill="none"><line x1="758.4" y1="605" x2="758.4" y2="627.5"/><polyline points="747.9,615.5 758.4,604.5 768.9,615.5"/></g>
<g fill="#e9792b"><rect x="1010.6" y="593.3" width="3.6" height="27.5" rx="0.6"/><rect x="1007" y="596.3" width="28.5" height="3.6"/><rect x="1016" y="601.8" width="17.6" height="12.4"/><path d="M1001.5,621.5 C1003,621 1004.5,621.5 1006,623 L1011,627.5 L1022.5,627.5 C1024.5,627.5 1024.5,625 1022.5,625 L1016.5,625 C1014,625 1014,621.7 1016.5,621.7 L1031.8,621.7 C1033.5,621.7 1035,622.5 1036,623.5 L1038.8,626.3 L1043.6,626.3 L1043.6,635.5 L1014,635.5 C1012.5,635.5 1011.5,635 1010.5,634 L1000.5,624.5 C999.5,623.5 1000,622 1001.5,621.5 Z"/></g>
<circle cx="158.7" cy="826.9" r="10.6" fill="none" stroke="#3b84c9" stroke-width="1.4"/>
<g stroke="#3b84c9" stroke-width="1.5" fill="none" stroke-linecap="round" stroke-linejoin="round"><line x1="158.7" y1="821" x2="158.7" y2="832.5"/><polyline points="153.7,826 158.7,821 163.7,826"/></g>
<circle cx="412.7" cy="826.9" r="10.6" fill="none" stroke="#d4402a" stroke-width="1.4"/>
<g stroke="#d4402a" stroke-width="1.5" fill="none" stroke-linecap="round" stroke-linejoin="round"><line x1="412.7" y1="821.3" x2="412.7" y2="832.3"/><polyline points="407.7,827 412.7,832.3 417.7,827"/></g>
<circle cx="700.6" cy="826.9" r="10.6" fill="none" stroke="#3b84c9" stroke-width="1.4"/>
<g stroke="#3b84c9" stroke-width="1.5" fill="none" stroke-linecap="round" stroke-linejoin="round"><line x1="700.6" y1="821" x2="700.6" y2="832.5"/><polyline points="695.6,826 700.6,821 705.6,826"/></g>
<circle cx="947.5" cy="826.9" r="10.6" fill="none" stroke="#3b84c9" stroke-width="1.4"/>
<g stroke="#3b84c9" stroke-width="1.5" fill="none" stroke-linecap="round" stroke-linejoin="round"><line x1="947.5" y1="821" x2="947.5" y2="832.5"/><polyline points="942.5,826 947.5,821 952.5,826"/></g>
<g fill="none" stroke="#111" stroke-width="1.6" stroke-linejoin="miter"><polyline points="42.9,904 58,891.9 72.8,904"/><line x1="69" y1="895.3" x2="69" y2="902"/><polyline points="46.9,901 46.9,918 54.8,918 54.8,908.7 60.9,908.7 60.9,918 69,918 69,901"/></g>
<path d="M51.5,1273 A24.7,24.7 0 0 0 51.5,1322.4 L70,1322.4 Q76.4,1322.4 76.4,1316 L76.4,1297.7 A24.7,24.7 0 0 0 51.5,1273 Z" fill="#0b0b0b"/>
<g fill="#fff"><circle cx="50.8" cy="1297.7" r="8"/><circle cx="50.8" cy="1286.3" r="8"/><circle cx="41.8" cy="1297.7" r="7.6"/><circle cx="61.5" cy="1297.7" r="8.3"/><circle cx="50.8" cy="1309.3" r="8.2"/></g>
<circle cx="50.8" cy="1286.3" r="6.4" fill="#f1c23e"/>
<circle cx="41.8" cy="1297.7" r="6" fill="#e14b3b"/>
<circle cx="61.5" cy="1297.7" r="6.7" fill="#3f8ad4"/>
<circle cx="50.8" cy="1309.3" r="6.6" fill="#6db043"/>
<circle cx="50.8" cy="1297.7" r="4.5" fill="#fff"/>
<circle cx="68.3" cy="1314.4" r="1.6" fill="none" stroke="#bbb" stroke-width="0.7"/>
</svg>
</body></html>
